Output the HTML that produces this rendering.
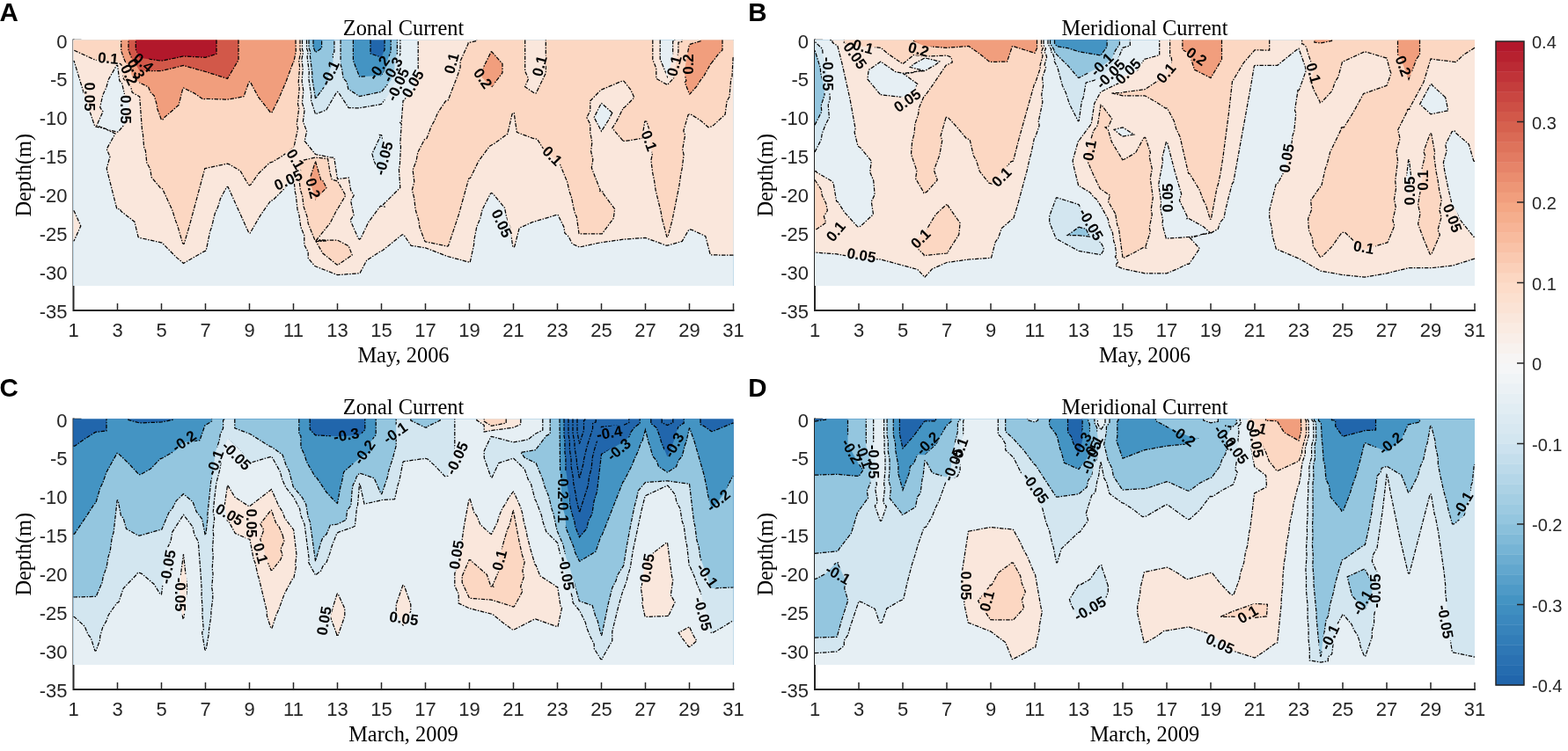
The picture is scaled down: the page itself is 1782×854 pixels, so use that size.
<!DOCTYPE html>
<html><head><meta charset="utf-8"><title>Currents</title><style>html,body{margin:0;padding:0;background:#fff;width:1782px;height:854px;overflow:hidden}
svg{display:block}
.tk{font-family:"Liberation Sans",Arial,sans-serif;font-size:22px;fill:#262626}
.cb{font-family:"Liberation Sans",Arial,sans-serif;font-size:20px;fill:#262626}
.ti{font-family:"Liberation Serif","Times New Roman",serif;font-size:24.4px;fill:#000}
.pl{font-family:"Liberation Sans",Arial,sans-serif;font-size:29.5px;font-weight:bold;fill:#000}
.cl{font-family:"Liberation Sans",Arial,sans-serif;font-size:17px;font-weight:bold;fill:#000;text-anchor:middle}
</style></head><body>
<svg width="1782" height="854" viewBox="0 0 1782 854">
<defs><mask id="lm" maskUnits="userSpaceOnUse" x="0" y="0" width="1782" height="854"><rect x="0" y="0" width="1782" height="854" fill="#fff"/><g fill="#000"><rect x="110.0" y="59.0" width="26.0" height="14" transform="rotate(5 123.0 66.0)"/><rect x="150.0" y="64.0" width="26.0" height="14" transform="rotate(40 163.0 71.0)"/><rect x="142.0" y="71.0" width="26.0" height="14" transform="rotate(62 155.0 78.0)"/><rect x="134.0" y="78.0" width="26.0" height="14" transform="rotate(65 147.0 85.0)"/><rect x="84.5" y="103.0" width="35.0" height="14" transform="rotate(90 102.0 110.0)"/><rect x="125.5" y="117.5" width="35.0" height="14" transform="rotate(90 143.0 124.5)"/><rect x="357.0" y="76.0" width="35.0" height="14" transform="rotate(-65 374.5 83.0)"/><rect x="413.0" y="70.0" width="35.0" height="14" transform="rotate(-55 430.5 77.0)"/><rect x="428.5" y="72.0" width="35.0" height="14" transform="rotate(-60 446.0 79.0)"/><rect x="430.0" y="89.0" width="44.0" height="14" transform="rotate(-65 452.0 96.0)"/><rect x="451.5" y="88.0" width="35.0" height="14" transform="rotate(-60 469.0 95.0)"/><rect x="500.0" y="65.0" width="26.0" height="14" transform="rotate(-75 513.0 72.0)"/><rect x="536.0" y="82.0" width="26.0" height="14" transform="rotate(55 549.0 89.0)"/><rect x="600.0" y="68.0" width="26.0" height="14" transform="rotate(-75 613.0 75.0)"/><rect x="725.0" y="153.0" width="26.0" height="14" transform="rotate(70 738.0 160.0)"/><rect x="753.0" y="68.0" width="26.0" height="14" transform="rotate(-75 766.0 75.0)"/><rect x="769.0" y="66.0" width="26.0" height="14" transform="rotate(-90 782.0 73.0)"/><rect x="615.0" y="170.0" width="26.0" height="14" transform="rotate(45 628.0 177.0)"/><rect x="310.0" y="197.5" width="35.0" height="14" transform="rotate(-25 327.5 204.5)"/><rect x="323.0" y="174.0" width="26.0" height="14" transform="rotate(60 336.0 181.0)"/><rect x="343.0" y="207.0" width="26.0" height="14" transform="rotate(75 356.0 214.0)"/><rect x="414.0" y="173.0" width="44.0" height="14" transform="rotate(-75 436.0 180.0)"/><rect x="553.0" y="247.0" width="35.0" height="14" transform="rotate(65 570.5 254.0)"/><rect x="968.0" y="46.0" width="26.0" height="14" transform="rotate(15 981.0 53.0)"/><rect x="954.5" y="56.0" width="35.0" height="14" transform="rotate(55 972.0 63.0)"/><rect x="919.0" y="77.0" width="44.0" height="14" transform="rotate(90 941.0 84.0)"/><rect x="1031.0" y="49.0" width="26.0" height="14" transform="rotate(15 1044.0 56.0)"/><rect x="1013.5" y="107.0" width="35.0" height="14" transform="rotate(-35 1031.0 114.0)"/><rect x="1125.0" y="194.0" width="26.0" height="14" transform="rotate(-45 1138.0 201.0)"/><rect x="936.6" y="256.0" width="26.0" height="14" transform="rotate(-50 949.6 263.0)"/><rect x="961.5" y="283.0" width="35.0" height="14" transform="rotate(10 979.0 290.0)"/><rect x="1033.0" y="264.0" width="26.0" height="14" transform="rotate(-45 1046.0 271.0)"/><rect x="1234.5" y="66.0" width="35.0" height="14" transform="rotate(-45 1252.0 73.0)"/><rect x="1240.0" y="77.0" width="44.0" height="14" transform="rotate(-45 1262.0 84.0)"/><rect x="1264.5" y="74.0" width="35.0" height="14" transform="rotate(-45 1282.0 81.0)"/><rect x="1312.0" y="76.0" width="26.0" height="14" transform="rotate(-50 1325.0 83.0)"/><rect x="1347.0" y="57.0" width="26.0" height="14" transform="rotate(35 1360.0 64.0)"/><rect x="1225.0" y="164.0" width="26.0" height="14" transform="rotate(-80 1238.0 171.0)"/><rect x="1444.5" y="173.0" width="35.0" height="14" transform="rotate(-80 1462.0 180.0)"/><rect x="1309.5" y="218.0" width="35.0" height="14" transform="rotate(-90 1327.0 225.0)"/><rect x="1218.0" y="248.0" width="44.0" height="14" transform="rotate(60 1240.0 255.0)"/><rect x="1480.0" y="76.0" width="26.0" height="14" transform="rotate(75 1493.0 83.0)"/><rect x="1582.0" y="68.0" width="26.0" height="14" transform="rotate(70 1595.0 75.0)"/><rect x="1584.5" y="210.0" width="35.0" height="14" transform="rotate(-90 1602.0 217.0)"/><rect x="1604.0" y="198.0" width="26.0" height="14" transform="rotate(-90 1617.0 205.0)"/><rect x="1633.5" y="241.0" width="35.0" height="14" transform="rotate(70 1651.0 248.0)"/><rect x="1537.0" y="274.0" width="26.0" height="14" transform="rotate(10 1550.0 281.0)"/><rect x="191.5" y="494.5" width="35.0" height="14" transform="rotate(-35 209.0 501.5)"/><rect x="226.5" y="519.0" width="35.0" height="14" transform="rotate(-70 244.0 526.0)"/><rect x="247.0" y="511.0" width="44.0" height="14" transform="rotate(45 269.0 518.0)"/><rect x="243.5" y="578.0" width="35.0" height="14" transform="rotate(30 261.0 585.0)"/><rect x="268.5" y="588.0" width="35.0" height="14" transform="rotate(90 286.0 595.0)"/><rect x="168.5" y="637.5" width="44.0" height="14" transform="rotate(-80 190.5 644.5)"/><rect x="183.0" y="669.0" width="44.0" height="14" transform="rotate(90 205.0 676.0)"/><rect x="283.5" y="622.0" width="26.0" height="14" transform="rotate(75 296.5 629.0)"/><rect x="350.5" y="699.0" width="35.0" height="14" transform="rotate(-80 368.0 706.0)"/><rect x="376.0" y="487.5" width="35.0" height="14" transform="rotate(-10 393.5 494.5)"/><rect x="396.5" y="507.0" width="35.0" height="14" transform="rotate(-55 414.0 514.0)"/><rect x="431.5" y="485.0" width="35.0" height="14" transform="rotate(-35 449.0 492.0)"/><rect x="497.0" y="514.0" width="44.0" height="14" transform="rotate(-65 519.0 521.0)"/><rect x="622.5" y="546.0" width="35.0" height="14" transform="rotate(90 640.0 553.0)"/><rect x="622.5" y="573.0" width="35.0" height="14" transform="rotate(90 640.0 580.0)"/><rect x="441.5" y="696.0" width="35.0" height="14" transform="rotate(8 459.0 703.0)"/><rect x="501.0" y="624.0" width="35.0" height="14" transform="rotate(-80 518.5 631.0)"/><rect x="554.5" y="630.0" width="26.0" height="14" transform="rotate(-75 567.5 637.0)"/><rect x="622.0" y="645.0" width="44.0" height="14" transform="rotate(80 644.0 652.0)"/><rect x="675.0" y="485.0" width="35.0" height="14" transform="rotate(-10 692.5 492.0)"/><rect x="685.5" y="504.0" width="35.0" height="14" transform="rotate(-40 703.0 511.0)"/><rect x="748.2" y="499.0" width="35.0" height="14" transform="rotate(-60 765.7 506.0)"/><rect x="798.5" y="562.0" width="35.0" height="14" transform="rotate(-40 816.0 569.0)"/><rect x="717.5" y="639.0" width="35.0" height="14" transform="rotate(-80 735.0 646.0)"/><rect x="786.5" y="647.0" width="35.0" height="14" transform="rotate(55 804.0 654.0)"/><rect x="777.0" y="691.0" width="44.0" height="14" transform="rotate(75 799.0 698.0)"/><rect x="950.5" y="506.0" width="35.0" height="14" transform="rotate(60 968.0 513.0)"/><rect x="964.5" y="511.0" width="35.0" height="14" transform="rotate(70 982.0 518.0)"/><rect x="971.0" y="518.0" width="44.0" height="14" transform="rotate(90 993.0 525.0)"/><rect x="1036.5" y="497.0" width="35.0" height="14" transform="rotate(-45 1054.0 504.0)"/><rect x="1061.0" y="521.0" width="44.0" height="14" transform="rotate(-70 1083.0 528.0)"/><rect x="1072.5" y="505.0" width="35.0" height="14" transform="rotate(-70 1090.0 512.0)"/><rect x="1155.0" y="548.0" width="44.0" height="14" transform="rotate(55 1177.0 555.0)"/><rect x="935.1" y="646.0" width="35.0" height="14" transform="rotate(30 952.6 653.0)"/><rect x="1080.5" y="659.0" width="35.0" height="14" transform="rotate(90 1098.0 666.0)"/><rect x="1108.5" y="676.5" width="26.0" height="14" transform="rotate(-75 1121.5 683.5)"/><rect x="1211.5" y="498.5" width="35.0" height="14" transform="rotate(-60 1229.0 505.5)"/><rect x="1224.5" y="502.0" width="35.0" height="14" transform="rotate(-60 1242.0 509.0)"/><rect x="1218.0" y="513.0" width="44.0" height="14" transform="rotate(-70 1240.0 520.0)"/><rect x="1327.5" y="488.5" width="35.0" height="14" transform="rotate(35 1345.0 495.5)"/><rect x="1374.5" y="490.0" width="35.0" height="14" transform="rotate(55 1392.0 497.0)"/><rect x="1382.0" y="503.0" width="44.0" height="14" transform="rotate(55 1404.0 510.0)"/><rect x="1415.0" y="478.5" width="26.0" height="14" transform="rotate(15 1428.0 485.5)"/><rect x="1410.5" y="497.0" width="35.0" height="14" transform="rotate(80 1428.0 504.0)"/><rect x="1216.5" y="685.0" width="44.0" height="14" transform="rotate(-30 1238.5 692.0)"/><rect x="1369.1" y="725.0" width="35.0" height="14" transform="rotate(25 1386.6 732.0)"/><rect x="1405.0" y="691.5" width="26.0" height="14" transform="rotate(-30 1418.0 698.5)"/><rect x="1562.5" y="497.0" width="35.0" height="14" transform="rotate(-40 1580.0 504.0)"/><rect x="1645.0" y="566.0" width="35.0" height="14" transform="rotate(-60 1662.5 573.0)"/><rect x="1493.5" y="717.5" width="35.0" height="14" transform="rotate(-65 1511.0 724.5)"/><rect x="1530.5" y="678.0" width="35.0" height="14" transform="rotate(-60 1548.0 685.0)"/><rect x="1541.0" y="665.0" width="44.0" height="14" transform="rotate(-90 1563.0 672.0)"/><rect x="1621.0" y="700.0" width="44.0" height="14" transform="rotate(80 1643.0 707.0)"/></g></mask></defs>
<path stroke="#262626" stroke-width="2" fill="none" d="M83.5 44.5 V353.0 H834.5"/>
<path stroke="#262626" stroke-width="1.5" fill="none" d="M83.5 45.5h9M83.5 89.4h9M83.5 133.4h9M83.5 177.3h9M83.5 221.2h9M83.5 265.1h9M83.5 309.1h9M83.5 353.0h9M133.5 353.0v-8M183.5 353.0v-8M233.5 353.0v-8M283.5 353.0v-8M333.5 353.0v-8M383.5 353.0v-8M433.5 353.0v-8M483.5 353.0v-8M533.5 353.0v-8M583.5 353.0v-8M633.5 353.0v-8M683.5 353.0v-8M733.5 353.0v-8M783.5 353.0v-8M833.5 353.0v-8"/>
<path stroke="#262626" stroke-width="2" fill="none" d="M926.0 44.5 V353.0 H1677.0"/>
<path stroke="#262626" stroke-width="1.5" fill="none" d="M926.0 45.5h9M926.0 89.4h9M926.0 133.4h9M926.0 177.3h9M926.0 221.2h9M926.0 265.1h9M926.0 309.1h9M926.0 353.0h9M976.0 353.0v-8M1026.0 353.0v-8M1076.0 353.0v-8M1126.0 353.0v-8M1176.0 353.0v-8M1226.0 353.0v-8M1276.0 353.0v-8M1326.0 353.0v-8M1376.0 353.0v-8M1426.0 353.0v-8M1476.0 353.0v-8M1526.0 353.0v-8M1576.0 353.0v-8M1626.0 353.0v-8M1676.0 353.0v-8"/>
<path stroke="#262626" stroke-width="2" fill="none" d="M83.5 475.5 V784.0 H834.5"/>
<path stroke="#262626" stroke-width="1.5" fill="none" d="M83.5 476.5h9M83.5 520.4h9M83.5 564.4h9M83.5 608.3h9M83.5 652.2h9M83.5 696.1h9M83.5 740.1h9M83.5 784.0h9M133.5 784.0v-8M183.5 784.0v-8M233.5 784.0v-8M283.5 784.0v-8M333.5 784.0v-8M383.5 784.0v-8M433.5 784.0v-8M483.5 784.0v-8M533.5 784.0v-8M583.5 784.0v-8M633.5 784.0v-8M683.5 784.0v-8M733.5 784.0v-8M783.5 784.0v-8M833.5 784.0v-8"/>
<path stroke="#262626" stroke-width="2" fill="none" d="M926.0 475.5 V784.0 H1677.0"/>
<path stroke="#262626" stroke-width="1.5" fill="none" d="M926.0 476.5h9M926.0 520.4h9M926.0 564.4h9M926.0 608.3h9M926.0 652.2h9M926.0 696.1h9M926.0 740.1h9M926.0 784.0h9M976.0 784.0v-8M1026.0 784.0v-8M1076.0 784.0v-8M1126.0 784.0v-8M1176.0 784.0v-8M1226.0 784.0v-8M1276.0 784.0v-8M1326.0 784.0v-8M1376.0 784.0v-8M1426.0 784.0v-8M1476.0 784.0v-8M1526.0 784.0v-8M1576.0 784.0v-8M1626.0 784.0v-8M1676.0 784.0v-8"/>
<path fill="#2166ac" d="M83.5 45.5L108.5 45.5L133.5 45.5L158.5 45.5L183.5 45.5L208.5 45.5L233.5 45.5L258.5 45.5L283.5 45.5L308.5 45.5L333.5 45.5L358.5 45.5L383.5 45.5L408.5 45.5L433.5 45.5L458.5 45.5L483.5 45.5L508.5 45.5L533.5 45.5L558.5 45.5L583.5 45.5L608.5 45.5L633.5 45.5L658.5 45.5L683.5 45.5L708.5 45.5L733.5 45.5L758.5 45.5L783.5 45.5L808.5 45.5L833.5 45.5L833.5 324.9L808.5 324.9L783.5 324.9L758.5 324.9L733.5 324.9L708.5 324.9L683.5 324.9L658.5 324.9L633.5 324.9L608.5 324.9L583.5 324.9L558.5 324.9L533.5 324.9L508.5 324.9L483.5 324.9L458.5 324.9L433.5 324.9L408.5 324.9L383.5 324.9L358.5 324.9L333.5 324.9L308.5 324.9L283.5 324.9L258.5 324.9L233.5 324.9L208.5 324.9L183.5 324.9L158.5 324.9L133.5 324.9L108.5 324.9L83.5 324.9 Z"/>
<path fill="#2166ac" d="M258.5 45.5L833.5 45.5L833.5 324.9L83.5 324.9L83.5 45.5L258.5 45.5Z"/>
<path fill="#4494c3" d="M421 45.5L421 60.9L433.5 65.3L437.1 56.4L437.1 45.5L833.5 45.5L833.5 324.9L83.5 324.9L83.5 45.5L421 45.5Z"/>
<path fill="#94c6df" d="M356 45.5L356 53.1L358.5 59.6L365.6 54.7L365.6 45.5L401.4 45.5L401.4 68.8L408.5 87.2L433.5 85.9L438.5 76.4L438.5 73L444.2 58.5L444.2 45.5L833.5 45.5L833.5 324.9L83.5 324.9L83.5 45.5L356 45.5Z"/>
<path fill="#d3e6f0" d="M351 45.5L351 54.4L353 59.6L352.3 63L354.9 83.9L354.6 87.5L358.5 112.3L359.2 111.7L371.2 95.1L375.2 78.6L378.4 71.9L378.4 60.2L379.9 59.1L379.9 45.5L387.1 45.5L387.1 73.7L388.4 77.3L390.1 88.8L394.1 93.3L395.8 101.3L408.5 109.6L433.5 104.4L444.6 90.9L445.9 83L448.5 78.1L448.5 67.8L451.4 60.6L451.4 45.5L833.5 45.5L833.5 324.9L83.5 324.9L83.5 45.5L351 45.5Z"/>
<path fill="#e6eff4" d="M348.5 45.5L348.5 55L350.2 59.5L349.1 64.5L351.3 82L350.8 89.1L353.8 109L353.4 113.6L358.5 129.8L370.8 125.1L382.1 105.6L383.5 104.4L384.9 105.4L396.2 122.7L408.5 122.8L433.5 118.4L441.7 107.7L443.4 101.6L450.2 93.2L452.2 81.4L453.5 78.9L453.5 65.2L454.9 61.6L454.9 45.5L833.5 45.5L833.5 324.9L83.5 324.9L83.5 45.5L348.5 45.5ZM422.9 174.8L425.2 183.4L432.8 198.9L433.5 199.2L437.7 178.8L437.9 174.4L433.8 154.1L433.5 153.6L431.5 153.4L432.4 154.7L422.9 174.8Z"/>
<path fill="#fae7dc" d="M343.5 45.5L343.5 56.2L344.6 59.2L342.9 67.6L344.2 78L343.1 92.3L344.8 103.3L343.4 116.9L346.1 125.2L344.4 138.1L348.6 149.3L346.2 160.3L358.5 175.5L375.2 178.9L379.8 179.3L383.5 203.6L384.2 203.8L395.8 201.8L396.2 202L398.6 216.1L402.2 222.2L398.6 228.3L402.1 244.6L398.1 250.5L407.1 270.9L407.8 271.8L408.5 272.2L409.9 271.1L418.9 252.4L432.4 234.2L437 235L435.5 232.6L454.8 213.4L453.4 192.3L454.3 188.1L455.5 166.5L454.8 163.3L456.3 140.9L454.6 139.2L456.3 137.9L458.1 114.4L458.5 114L459.6 114L459.9 113L471.2 99.3L471.2 89.8L475.2 81.9L475.2 45.5L750.2 45.5L750.2 67.1L758.5 87.2L763.5 68.9L764.7 62.6L764.7 46.9L766.8 46.4L766.8 45.5L833.5 45.5L833.5 290.2L808.5 290.2L807.8 289.9L807.1 289.1L801.8 268.6L787 261.7L783.5 260.8L782.8 261.3L775.2 274.4L758.5 279.2L757.1 279.1L733.5 270.4L708.5 272.2L682.1 275.9L658.5 281L650.2 277.2L646.2 269L641.8 264.9L640.9 258.3L634.1 244.4L633.5 244.1L608.5 252L605 252.7L590.2 259.3L584.9 280L584.2 280.8L582.8 280.9L579.6 257.9L576.8 252.8L573.5 236.3L560.5 220.6L558.5 219.5L557.5 220.1L548.2 238.1L545.8 248.4L541.8 257.8L538.7 273.9L538.7 277.6L534.2 298.4L533.5 298.5L508.5 291.5L483.5 281.8L467.2 279.3L459.2 267.5L458.5 266.9L457.1 266.8L434.9 284.8L432.1 286L416.8 296L409.2 310.3L408.5 310.8L383.5 312.6L357.8 302.6L350.2 293.6L350.2 286.6L345.8 278.4L345.8 267.7L341.8 258.1L339.8 243.5L338.1 238.6L336.2 221.1L335.5 219.2L333.5 199.2L332.1 200L323.1 214.6L310.5 227.3L307.5 228.4L295.8 245.1L284.2 265.1L282.8 264.9L259.2 212.7L258.5 212.4L257.5 212.9L250.4 226.1L248.1 234.3L244.1 243.3L240.5 258.4L238.7 263.1L234.2 285.1L232.1 285.9L209.2 299.2L207.8 299.1L200.2 292.4L184.2 276.1L158.5 270.4L157.1 269.5L152.9 252.2L137.7 240.3L136 237.4L133.5 237.9L132.8 237.5L121.2 191.7L125 178L121.2 169.5L131 152L121 147.3L133.5 150.1L134.5 149.7L143.8 138.7L142.9 130.5L147 121.6L146.2 110.9L141.8 108.5L138.6 94.7L135.8 91.8L133.7 74L133.5 73.6L132.8 73.8L123.2 90.6L120.8 99.6L116.8 108L113.7 122.1L117 126.8L109.9 142.8L121 146.6L107.8 143.9L96.2 109L84.2 69.5L83.5 69.2L83.5 45.5L343.5 45.5ZM83.5 239.7L84.2 239.9L84.2 240.5L91.8 256.9L84.2 273.1L84.2 273.8L83.5 273.9L83.5 239.7ZM695.8 128.3L684.2 118L683.5 117.5L683.1 117.8L675.2 133.5L683.5 149.2L691.8 136.1L695.8 128.3Z"/>
<path fill="#fcd7c2" d="M341 45.5L341 56.8L341.9 59.1L339.7 69.2L340.6 76.1L339.2 93.8L340.2 100.4L338.5 118.5L339.8 122.7L337.2 142.1L338.6 145.9L333.9 167.9L334.2 168.3L332.1 168.9L321.2 177.1L309.9 184L306.5 185.1L293.9 197.2L284.9 210.1L283.5 210.7L282.1 209.7L273.1 194.3L260.5 186.8L258.5 186.1L232.8 191.6L221.2 235.7L209.2 277.3L208.5 277.4L207.8 277L201.7 256.4L199.7 251.4L195.8 239L184.5 214.4L182.3 213.7L172.1 201.5L170.8 192.2L166.8 185L165.4 171.4L163.6 167.1L162.3 150.9L161.5 148.4L158.7 110L158.1 109.3L150.2 105.1L148.6 98.2L144.2 93.1L140.4 89.6L138.7 75.4L137.6 73.2L133.5 71L108.5 68.3L91.8 61L83.5 56.9L83.5 45.5L341 45.5ZM596.7 45.5L596.7 81L600.6 89.5L596.6 98.6L607.1 105.9L608.5 106.1L609.2 106L609.2 105.3L620.3 83L620.3 45.5L741.8 45.5L741.8 67.8L745.8 77.6L745.8 89.3L758.5 96.5L765.8 88.6L764.9 84.8L768.5 71.4L770.9 58.8L771.1 48L775.2 47.3L775.2 45.5L833.5 45.5L833.5 65.3L833.1 65.7L832 87.1L830.7 90.2L829 110L826.1 115L824.1 130.2L810.7 142.6L808.5 143.9L805 144.7L796 136.9L784.9 129.9L783.5 129.8L782.1 130.7L776.8 148.7L778.6 153.8L775.7 169.8L777.1 176L775.2 191.2L773.6 199L771.9 211.2L769.5 222.1L768.2 231L764.8 245.4L764 250.4L759 269.3L757.8 269.2L752.2 247.7L751.2 241.3L745.1 216.1L743.4 204.3L741.8 197.1L739.9 182.3L741.3 175.7L738.4 160.4L740.2 154.7L734.9 138.2L733.5 137.8L732.8 138.2L729.6 157.2L712 160.2L707.5 160.5L707.8 159.9L695.8 145.7L700.2 138.9L708.1 123.3L707.8 123L709.9 122L720.8 110.9L716.8 102.2L709.2 92.4L708.5 92.1L707.1 92.1L684.9 101.7L683.5 101.7L682.8 102.4L670.8 114.7L670.8 125.9L666.8 133.6L670.8 141.2L670.8 152.3L671.2 152.6L672.9 161.9L671.6 171.9L673.9 181.3L672.3 190.8L682.3 216.5L681.8 217.6L684.9 218L684.6 218.8L698.6 237.6L697.3 248.2L684.4 265.2L684.2 265.9L658.5 266L658 265.6L655.3 246.4L653.8 243.7L652.7 240.1L649.4 224.1L647.1 217.7L644.7 207L634.4 181.9L631 181.4L619.2 171.8L610.5 158.3L605 157.1L587.4 150.4L584.2 128.5L583.5 128.1L582.1 129.5L576.8 152.3L562 163.1L556.5 166.2L543.9 183.2L534.9 201.8L534.5 202.5L532.8 202.9L521.2 244.6L515.3 263.2L509.5 279.5L508.5 280.1L483 274.6L476.8 258.2L475.9 250.9L472.1 238.2L470.8 225.6L468.4 216L470.8 206.6L469.1 193.3L473.1 183L474.8 173.3L482.4 158.6L484.9 157.5L490.2 143.4L493.7 137.4L497.4 128.5L506.5 114.9L509.2 114L519.1 88.4L523.1 76.7L523.1 69.6L532.1 49.7L532.1 48.7L541.8 46.5L541.8 45.5L596.7 45.5ZM384.2 301.1L382.8 300.9L366.8 288L359.2 274.7L371 273.8L358.1 273.7L350.2 254.2L349.2 246.9L345 234.6L343.7 223L341.3 215.6L339.6 200.4L341.6 194L338.6 183.7L357.1 179.6L358.5 179L359 179.4L372.6 180.6L375.1 196.7L377.1 203.7L377.4 204.2L383.3 205.9L383.9 206.5L392.8 222.2L383.9 237.3L384 237.8L382.8 238.6L375.2 253.7L359.9 272.6L371 273.1L383.5 273.1L396.2 279.7L400.2 290L384.9 300.3L384.2 301.1Z"/>
<path fill="#f19e7d" d="M336 45.5L336 58.1L336.3 58.8L333.5 71.9L332.8 72L325 93L317 111.7L309.2 127.5L308.5 128.1L307.4 127.9L293.7 110.5L284.9 94.1L284.2 93.1L283.5 92.9L282.8 93.5L277 109.8L258.5 113.2L233.5 112.3L231 113L221 106.1L208.5 100L207.8 100.6L203.1 119.4L186 134.3L184.9 136.1L183.5 136L183.2 135.6L178.7 123.5L178.4 119.6L175.2 108.9L171 105L168.6 98.9L159 94.2L149.5 85.3L148.5 77.8L145.9 73.2L143.6 72.1L141.8 69.1L137.7 57.8L137.7 45.5L336 45.5ZM821 45.5L821 57L816.9 60.8L808.5 71.9L807.1 71.8L807.8 72.4L800 86.3L796 91.4L792 97.9L784.2 106.7L783.5 107L778.3 93.6L779.9 91.9L777.3 80.9L778.5 76.4L783.5 50.8L784.2 50.3L796 46.8L796 45.5L821 45.5ZM358.5 226.5L352.8 208.5L352.2 203.4L358.5 183.4L364.7 204.5L366.8 205.3L371 213.5L358.5 226.5ZM558.1 58.9L558.5 58.7L559.2 59.2L571 72.5L571 82.8L559 98.9L558.5 99.1L547.7 88L549.1 77.2L558.1 58.9Z"/>
<path fill="#d25849" d="M271 45.5L271 68.3L258.5 89.4L233.5 81.5L208.5 74.5L183.5 80.6L158.5 80.6L154.3 73.2L153.5 72.8L150.2 67.6L146 56.9L146 45.5L271 45.5Z"/>
<path fill="#b2182b" d="M246 45.5L246 61.4L233.5 65.3L208.5 64L183.5 69.2L158.5 65.7L154.3 56L154.3 45.5L246 45.5Z"/>
<path fill="none" stroke="#000" stroke-width="1.25" stroke-dasharray="4.5 1.5 1.5 1.5" mask="url(#lm)" d="M421 45.5L421 60.9L433.5 65.3L437.1 56.4L437.1 45.5M356 45.5L356 53.1L358.5 59.6L365.6 54.7L365.6 45.5M401.4 45.5L401.4 68.8L408.5 87.2L433.5 85.9L438.5 76.4L438.5 73L444.2 58.5L444.2 45.5M351 45.5L351 54.4L353 59.6L352.3 63L354.9 83.9L354.6 87.5L358.5 112.3L371.2 95.1L375.2 78.6L378.4 71.9L378.4 60.2L379.9 59.1L379.9 45.5M387.1 45.5L387.1 73.7L388.4 77.3L390.1 88.8L394.1 93.3L395.8 101.3L408.5 109.6L433.5 104.4L444.6 90.9L445.9 83L448.5 78.1L448.5 67.8L451.4 60.6L451.4 45.5M348.5 45.5L348.5 55L350.2 59.5L349.1 64.5L351.3 82L350.8 89.1L353.8 109L353.4 113.6L358.5 129.8L370.8 125.1L382.1 105.6L383.5 104.4L384.9 105.4L396.2 122.7L408.5 122.8L433.5 118.4L441.7 107.7L443.4 101.6L450.2 93.2L452.2 81.4L453.5 78.9L453.5 65.2L454.9 61.6L454.9 45.5M422.9 174.8L425.2 183.4L432.8 198.9L433.5 199.2L437.7 178.8L437.9 174.4L433.8 154.1L433.5 153.6L431.5 153.4L432.4 154.7L422.9 174.8ZM343.5 45.5L343.5 56.2L344.6 59.2L342.9 67.6L344.2 78L343.1 92.3L344.8 103.3L343.4 116.9L346.1 125.2L344.4 138.1L348.6 149.3L346.2 160.3L358.5 175.5L375.2 178.9L379.8 179.3L383.5 203.6L396.2 202L398.6 216.1L402.2 222.2L398.6 228.3L402.1 244.6L398.1 250.5L407.1 270.9L408.5 272.2L409.9 271.1L418.9 252.4L432.4 234.2L437 235L435.5 232.6L454.8 213.4L453.4 192.3L454.3 188.1L455.5 166.5L454.8 163.3L456.3 140.9L454.6 139.2L456.3 137.9L458.1 114.4L459.6 114L459.9 113L471.2 99.3L471.2 89.8L475.2 81.9L475.2 45.5M750.2 45.5L750.2 67.1L758.5 87.2L763.5 68.9L764.7 62.6L764.7 46.9L766.8 46.4L766.8 45.5M833.5 290.2L807.8 289.9L807.1 289.1L801.8 268.6L787 261.7L783.5 260.8L782.8 261.3L775.2 274.4L758.5 279.2L757.1 279.1L733.5 270.4L708.5 272.2L682.1 275.9L658.5 281L650.2 277.2L646.2 269L641.8 264.9L640.9 258.3L634.1 244.4L633.5 244.1L605 252.7L590.2 259.3L584.9 280L584.2 280.8L582.8 280.9L579.6 257.9L576.8 252.8L573.5 236.3L560.5 220.6L558.5 219.5L557.5 220.1L548.2 238.1L545.8 248.4L541.8 257.8L538.7 273.9L538.7 277.6L534.2 298.4L508.5 291.5L483.5 281.8L467.2 279.3L459.2 267.5L458.5 266.9L457.1 266.8L434.9 284.8L432.1 286L416.8 296L409.2 310.3L408.5 310.8L383.5 312.6L357.8 302.6L350.2 293.6L350.2 286.6L345.8 278.4L345.8 267.7L341.8 258.1L339.8 243.5L338.1 238.6L336.2 221.1L335.5 219.2L333.5 199.2L332.1 200L323.1 214.6L310.5 227.3L307.5 228.4L295.8 245.1L284.2 265.1L282.8 264.9L259.2 212.7L258.5 212.4L257.5 212.9L250.4 226.1L248.1 234.3L244.1 243.3L240.5 258.4L238.7 263.1L234.2 285.1L232.1 285.9L208.5 299.4L200.2 292.4L184.2 276.1L158.5 270.4L157.1 269.5L152.9 252.2L137.7 240.3L136 237.4L133.5 237.9L132.8 237.5L121.2 191.7L125 178L121.2 169.5L131 152L121 147.3L133.5 150.1L134.5 149.7L143.8 138.7L142.9 130.5L147 121.6L146.2 110.9L141.8 108.5L138.6 94.7L135.8 91.8L133.5 73.6L132.8 73.8L123.2 90.6L120.8 99.6L116.8 108L113.7 122.1L117 126.8L109.9 142.8L121 146.6L107.8 143.9L96.2 109L84.2 69.5L83.5 69.2M83.5 239.7L84.2 239.9L91.8 256.9L84.2 273.8L83.5 273.9M695.8 128.3L684.2 118L683.5 117.5L683.1 117.8L675.2 133.5L683.5 149.2L691.8 136.1L695.8 128.3ZM341 45.5L341 56.8L341.9 59.1L339.7 69.2L340.6 76.1L339.2 93.8L340.2 100.4L338.5 118.5L339.8 122.7L337.2 142.1L338.6 145.9L333.9 167.9L334.2 168.3L332.1 168.9L321.2 177.1L309.9 184L306.5 185.1L293.9 197.2L284.9 210.1L283.5 210.7L282.1 209.7L273.1 194.3L260.5 186.8L258.5 186.1L232.8 191.6L215.3 256.8L209.2 277.3L208.5 277.4L207.5 276.4L201.7 256.4L199.7 251.4L195.8 239L184.5 214.4L182.3 213.7L172.1 201.5L170.8 192.2L166.8 185L165.4 171.4L163.6 167.1L162.3 150.9L161.5 148.4L158.7 110L150.2 105.1L148.6 98.2L144.2 93.1L140.4 89.6L138.7 75.4L137.6 73.2L133.5 71L108.5 68.3L83.5 56.9M596.7 45.5L596.7 81L600.6 89.5L596.6 98.6L607.1 105.9L608.5 106.1L609.2 106L620.3 83L620.3 45.5M741.8 45.5L741.8 67.8L745.8 77.6L745.8 89.3L758.5 96.5L765.8 88.6L764.9 84.8L768.5 71.4L770.9 58.8L770.9 48.3L775.2 47.3L775.2 45.5M833.5 65.3L833.1 65.7L832 87.1L830.7 90.2L829 110L826.1 115L824.1 130.2L810.7 142.6L808.5 143.9L805 144.7L796 136.9L784.9 129.9L783.5 129.8L782.1 130.7L776.8 148.7L778.6 153.8L775.7 169.8L777.1 176L775.2 191.2L773.6 199L771.9 211.2L764 250.4L759 269.3L757.8 269.2L752.2 247.7L751.2 241.3L745.1 216.1L743.4 204.3L741.8 197.1L739.9 182.3L741.3 175.7L738.4 160.4L740.2 154.7L734.9 138.2L733.5 137.8L732.8 138.2L729.6 157.2L712 160.2L707.5 160.5L707.8 159.9L695.8 145.7L700.2 138.9L708.1 123.3L707.8 123L709.9 122L720.8 110.9L716.8 102.2L709.2 92.4L708.5 92.1L707.1 92.1L682.8 102.4L670.8 114.7L670.8 125.9L666.8 133.6L670.8 141.2L670.8 152.3L671.2 152.6L672.9 161.9L671.6 171.9L673.9 181.3L672.3 190.8L682.3 216.5L681.8 217.6L684.9 218L684.6 218.8L698.6 237.6L697.3 248.2L684.2 265.9L658.5 266L658 265.6L655.3 246.4L653.8 243.7L652.7 240.1L649.4 224.1L647.1 217.7L644.7 207L634.4 181.9L631 181.4L619.2 171.8L610.5 158.3L605 157.1L587.4 150.4L584.2 128.5L583.5 128.1L582.1 129.5L576.8 152.3L562 163.1L556.5 166.2L543.9 183.2L534.9 201.8L534.5 202.5L532.8 202.9L521.2 244.6L509.5 279.5L508.5 280.1L483.5 274.8L482.8 274.2L476.8 258.2L475.9 250.9L472.1 238.2L470.8 225.6L468.4 216L470.8 206.6L469.1 193.3L473.1 183L474.8 173.3L482.4 158.6L484.9 157.5L490.2 143.4L493.7 137.4L497.4 128.5L506.5 114.9L509.2 114L519.1 88.4L523.1 76.7L523.1 69.6L532.1 49.7L532.1 48.7L541.8 46.5L541.8 45.5M384.2 301.1L382.8 300.9L366.8 288L359.2 274.7L371 273.8L358.1 273.7L350.2 254.2L349.2 246.9L345 234.6L343.7 223L341.3 215.6L339.6 200.4L341.6 194L338.6 183.7L358.5 179L372.6 180.6L375.1 196.7L377.1 203.7L377.4 204.2L383.3 205.9L383.9 206.5L392.8 222.2L383.9 237.3L384 237.8L382.8 238.6L375.2 253.7L359.9 272.6L371 273.1L383.5 273.1L396.2 279.7L400.2 290L384.2 301.1ZM336 45.5L336.3 58.8L333.5 71.9L332.8 72L325 93L317 111.7L309.2 127.5L308.5 128.1L307.4 127.9L293.7 110.5L284.9 94.1L284.2 93.1L283.5 92.9L282.8 93.5L277 109.8L258.5 113.2L233.5 112.3L231 113L221 106.1L208.5 100L207.8 100.6L203.1 119.4L186 134.3L184.9 136.1L183.5 136L183.2 135.6L178.7 123.5L178.4 119.6L175.2 108.9L171 105L168.6 98.9L159 94.2L149.5 85.3L148.5 77.8L145.9 73.2L143.6 72.1L141.8 69.1L137.7 57.8L137.7 45.5M821 45.5L821 57L816.9 60.8L808.5 71.9L807.1 71.8L807.8 72.4L800 86.3L796 91.4L792 97.9L784.2 106.7L783.5 107L778.3 93.6L779.9 91.9L777.3 80.9L783.3 51.1L784.2 50.3L796 46.8L796 45.5M358.5 226.5L352.8 208.5L352.2 203.4L358.5 183.4L364.7 204.5L366.8 205.3L371 213.5L358.5 226.5ZM558.1 58.9L558.5 58.7L559.2 59.2L571 72.5L571 82.8L558.5 99.1L547.7 88L549.1 77.2L558.1 58.9ZM271 45.5L271 68.3L258.5 89.4L233.5 81.5L208.5 74.5L183.5 80.6L158.5 80.6L154.3 73.2L153.5 72.8L150.2 67.6L146 56.9L146 45.5M246 45.5L246 61.4L233.5 65.3L208.5 64L183.5 69.2L158.5 65.7L154.3 56L154.3 45.5"/>
<path fill="#2166ac" d="M926 45.5L951 45.5L976 45.5L1001 45.5L1026 45.5L1051 45.5L1076 45.5L1101 45.5L1126 45.5L1151 45.5L1176 45.5L1201 45.5L1226 45.5L1251 45.5L1276 45.5L1301 45.5L1326 45.5L1351 45.5L1376 45.5L1401 45.5L1426 45.5L1451 45.5L1476 45.5L1501 45.5L1526 45.5L1551 45.5L1576 45.5L1601 45.5L1626 45.5L1651 45.5L1676 45.5L1676 324.9L1651 324.9L1626 324.9L1601 324.9L1576 324.9L1551 324.9L1526 324.9L1501 324.9L1476 324.9L1451 324.9L1426 324.9L1401 324.9L1376 324.9L1351 324.9L1326 324.9L1301 324.9L1276 324.9L1251 324.9L1226 324.9L1201 324.9L1176 324.9L1151 324.9L1126 324.9L1101 324.9L1076 324.9L1051 324.9L1026 324.9L1001 324.9L976 324.9L951 324.9L926 324.9 Z"/>
<path fill="#2166ac" d="M1676 183.8L1676 324.9L926 324.9L926 45.5L1676 45.5L1676 183.8Z"/>
<path fill="#4494c3" d="M1676 183.8L1676 324.9L926 324.9L926 45.5L1676 45.5L1676 183.8Z"/>
<path fill="#94c6df" d="M1198.5 45.5L1198.5 49.4L1201 52.5L1201.7 52.9L1213.5 54.7L1226 58.7L1251 63.1L1258.1 53L1258.1 45.5L1676 45.5L1676 324.9L926 324.9L926 45.5L1198.5 45.5Z"/>
<path fill="#d3e6f0" d="M926 142.1L933.8 126.9L933.2 120L937.1 107.9L936.5 98.1L932.7 83.2L932.3 77.3L926 56.9L926 45.5L1193.5 45.5L1193.5 50.2L1195.4 52.4L1197.9 56.8L1197.4 57.7L1201 62.2L1206.1 66.8L1213.7 74.7L1225.3 87.8L1225.5 88.5L1226 88.6L1242.7 79.8L1251 76.2L1263.4 67.1L1267.6 57.4L1272.4 50.5L1272.4 45.5L1676 45.5L1676 324.9L926 324.9L926 142.1ZM1225.2 267.6L1238.3 269L1234.3 260.3L1224.6 257.9L1225.2 258.9L1213.3 267.5L1225.2 267.6Z"/>
<path fill="#e6eff4" d="M926 172.9L926.6 172.3L933.2 158.9L934.3 151.8L938.3 141.5L942.4 133.6L941.2 119.2L943.3 112.5L942.3 97.4L940.1 88.4L939.1 76.1L935.3 63.6L934.6 55.5L926.3 47.6L926 45.5L1191 45.5L1191 50.6L1192.6 52.4L1194.8 56.3L1193.9 58.1L1196.8 61.5L1198.7 68.1L1198.2 69.8L1200.8 75L1201.7 76.1L1207.4 97.4L1211.4 105.7L1215.4 118.3L1225.3 137.8L1226.2 137.4L1229.5 114.1L1231.1 111.3L1234.2 93.9L1251 89.4L1259.2 80L1263.7 73.3L1269.7 68.9L1276 54.3L1284.3 52L1284.3 45.5L1676 45.5L1676 324.9L926 324.9L926 172.9ZM1231.1 243.2L1226 232.6L1201 224.7L1200.4 224.9L1192.7 245.8L1192.7 252.8L1200.3 271.5L1226 285.4L1251 289.7L1254.5 284.2L1254.2 281.6L1251 275.7L1249.6 275.4L1250.6 275.2L1242.7 257.7L1238.3 256.4L1234.3 248.6L1231.1 243.2Z"/>
<path fill="#fae7dc" d="M1676 294.1L1651 302L1626 304.7L1601 304.7L1576 310.8L1551 315.2L1526 312.6L1501 308.2L1476.8 294.4L1475.3 294.1L1451 283.6L1450.3 283L1445.8 266.9L1445.8 261.6L1442.7 247.4L1442.7 239.1L1450.3 209L1452.4 208L1461.4 191.3L1463 180.6L1467 170.7L1469 154.4L1470.8 148.8L1472.8 128.7L1471.5 125.5L1474.9 103.7L1474 102.5L1476 102.6L1476.5 102.2L1484.3 80.2L1483.2 75.2L1476 55.2L1474.6 55.8L1451.7 74.3L1426 74.5L1425.3 75.3L1421.5 98.2L1401.7 207.5L1400.5 208.4L1396.3 224.2L1392.3 240.8L1391.1 247.8L1386.6 252.9L1384.3 260.3L1376 265.1L1363.5 267L1375.3 264.6L1367.7 257.8L1351 248.5L1349 248.5L1349.9 247.5L1340.4 227.9L1342.7 220.8L1336.3 198.1L1335.9 197.8L1326.4 161.6L1325.3 161.7L1325.5 162.2L1320.8 179.5L1321.6 183.2L1316.7 209.6L1319.7 230.6L1318.8 236.1L1321.6 250.5L1320.8 254.4L1325.5 270.7L1325.3 271.2L1351 269.5L1363.5 267.7L1352.4 270.5L1363.3 282.6L1351.7 299.8L1351 300.3L1349.6 300.1L1338.5 305.6L1326.7 310.5L1326 310.8L1301 310.8L1276 305.6L1267.7 302L1270.9 297.5L1267.4 291.9L1268.7 289.9L1267.2 277.3L1265.8 274.8L1264.5 264.9L1260.3 255.4L1259.3 249.2L1251.4 234.8L1245.9 226.3L1242.7 223.9L1238.7 218.7L1226.8 212L1225.6 211L1220.2 188.9L1219.1 182.7L1225.4 160.4L1225.3 159.8L1226.4 159.5L1240.3 140.8L1243.7 117.8L1251 104.4L1270.9 94.9L1276 87.2L1292.7 79.8L1300.3 67.5L1317.7 62.6L1317.7 45.5L1676 45.5L1676 183.4L1675.3 183.3L1674.6 182.4L1669.3 164.1L1654.5 151.2L1653 148.8L1650.2 149.6L1642.7 164.5L1644.1 171.8L1640.4 184.6L1641.7 194L1645.1 209.4L1645.9 214.5L1650.6 234.2L1651.7 234.5L1652.4 235.5L1659.5 250.2L1674.6 269.1L1676 269.5L1676 294.1ZM926 194.9L927.4 194.6L928.5 196.3L945.8 206.3L947.2 208.5L950.6 228.8L952.4 229.8L959.5 241.1L974.6 257.8L976 258.1L978.5 256.8L992.5 243.7L990.3 229.2L994.1 221.3L992.7 205.1L988.7 195.7L990.3 183.1L977.8 167.9L975 166.2L971.1 150.4L972.1 146.4L966.1 113.1L957.3 73.5L951.8 52L946.1 48.4L945.9 45.8L942.7 45.8L942.7 45.5L1186 45.5L1186 51.4L1188.5 55.2L1186.8 58.9L1188.5 61L1189.6 65.1L1187.1 73.9L1188.6 76.9L1184.6 88.5L1185.6 97.3L1185.3 97.6L1183.7 107.7L1184.9 116L1180.2 138.3L1181.2 142.8L1176.7 155.7L1175.5 156.7L1171.8 174.8L1170.5 178.9L1167.3 193.4L1156.2 234.3L1151.7 248.7L1149.6 249.8L1138.3 259.6L1134.5 270.8L1131.2 275.2L1126.7 292.7L1126 293.3L1101 295L1076 298.5L1059.3 305.9L1051 315.2L1050.3 314.8L1042.7 306.4L1001 295L976 293.3L951 288.9L926 287.1L926 194.9ZM1601.5 181.9L1601 181.7L1600.6 182.1L1598.4 202.2L1600.5 221.1L1601 221.2L1601.4 220.9L1603.7 201.1L1601.5 181.9ZM1275.6 155.2L1288.7 153L1276 144.8L1266.1 147.4L1275.6 155.2ZM1642.7 110.7L1627.4 96.7L1627 95.7L1626 95.6L1613.7 118.4L1626 129.8L1645.8 125.8L1642.7 110.7ZM985.9 90L999.9 106.8L999.6 107.6L1026 110.5L1038.7 102.7L1042.7 95.4L1027.4 84.3L1038.5 82.3L1026 83.3L1017.7 81.7L1001 70.1L987.2 79.5L985.9 90ZM1050.3 66.2L1038.7 72.8L1034.3 76.4L1049.6 80.2L1038.5 81.6L1051 80.6L1063.3 73.6L1067.7 70L1051 65.7L1050.3 66.2Z"/>
<path fill="#fcd7c2" d="M926 204.5L926.6 204.9L933.2 215.4L934.3 222.2L938.7 231.2L940.4 239.5L936.3 246L938.7 253.2L927.4 261.1L926 261.6L926 204.5ZM1183.5 45.5L1183.5 51.8L1185.4 54.6L1183.2 59.3L1184.4 60.7L1184.2 61.1L1185 63.7L1181.6 76L1182.3 77.4L1176.3 95.3L1175.4 95.9L1157.4 160.1L1151.6 183L1149 183.9L1127.4 209L1124 208.2L1113.3 194.8L1109.6 182.6L1106.4 177L1102.1 158.5L1101 158L1098.5 157.7L1088.5 145.7L1077.4 133.6L1074 133.2L1074.9 134.2L1069 154.8L1070.8 159.6L1067.7 176.7L1061.4 193.4L1065.3 204.7L1053.5 217.9L1051 219.5L1049.8 219.6L1049.6 218.4L1040.6 203.1L1041.9 194.1L1035.5 175.4L1036.6 160.9L1039 151.9L1039.9 140.9L1043.7 129.6L1044.3 123L1050.2 109.2L1051.7 108.3L1059.3 97.6L1075.2 74.2L1082.3 71L1081.1 65.2L1076 63.1L1050.3 64.2L1038.7 62.3L1026 72.7L1009.3 61.2L1001 54.3L976 52.5L963.3 50.2L959.3 48.7L959.3 45.5L1183.5 45.5ZM1442.7 45.5L1442.7 57.1L1426 56.9L1413.3 71.5L1401.6 91L1400.6 91.5L1396.3 130L1389.8 179.6L1388.1 188.6L1387 197.2L1384.7 208.5L1382.9 214.1L1376.4 248.9L1376 249.3L1375.2 249L1370.5 233.2L1367.2 226.9L1363.3 216.1L1352 197.5L1350.6 197.2L1341.1 155.7L1340.7 155.6L1336.6 146.2L1334.3 137.8L1326.7 123.3L1326 122.8L1324.6 123L1313.5 115.8L1301 108.8L1276 108.8L1274.6 108.6L1275.2 108.3L1263.3 105.8L1275.2 105.6L1276.7 104.9L1301 101.7L1313.5 93.8L1324.6 86.2L1326.4 85.5L1331.8 69.9L1331.1 64.7L1329.6 63.9L1329.6 45.5L1442.7 45.5ZM1676 54.3L1663.5 62.2L1654.5 70.6L1626 67L1617.9 93.5L1601.4 124L1601.7 124.4L1598.5 124.4L1599.6 125.9L1588.7 147.7L1591.1 157.6L1587 171.8L1588.7 183.9L1588.3 184.3L1585.7 205.9L1586.6 213.9L1584.3 227.6L1584.7 227.7L1586.3 235.6L1582.8 250.2L1584.8 256.6L1577 275.7L1576 275.7L1551 283.6L1549.6 283.5L1538.5 273.9L1528.5 264.3L1526 264.3L1524.6 265L1513.7 280.4L1502.4 291.8L1501 292.4L1500.2 292.1L1492.3 279.7L1491.6 271.4L1487.5 261.9L1486.6 248.8L1490.7 238.1L1489.6 227.9L1499.8 213.2L1501.7 211.9L1506.2 191.7L1508 187.3L1511.6 173.1L1524.6 146.2L1523.5 144.7L1527.4 144.8L1538.3 127.2L1549.6 106.5L1576 97.3L1580.9 83.4L1579.6 79.8L1576 66.1L1551 58.7L1525.5 70.4L1520.8 87.7L1517.5 92.6L1513.7 103.6L1502.4 115.8L1501 116.7L1500.2 116.7L1500.2 115.9L1492.3 100.7L1492.7 100.5L1488.7 92.4L1492.7 81.5L1490.3 71.5L1486.2 59.9L1484.6 53.4L1480.9 50L1479.6 49.9L1479.6 45.5L1676 45.5L1676 54.3ZM1619.6 176.8L1617.9 172.4L1625 152.7L1624.6 152.2L1626 151.8L1626.7 152.1L1626.5 152.5L1630.7 174.1L1629.8 177.5L1632.3 196.2L1633.7 202.4L1635.9 217.5L1638.3 227.2L1635.9 239.7L1636.3 239.8L1638 247.2L1634.1 261.4L1636.4 267L1627 288.8L1626 289.3L1625 288.7L1617.9 271.8L1615.6 264.8L1611.6 254.6L1614 242.8L1611.6 233.1L1613.3 221.1L1613.7 220.7L1614.6 211.9L1617 199.1L1616.1 191.5L1619.6 176.8ZM1267.7 243.3L1259.3 229L1261.6 222.3L1250.2 214.6L1242.3 198L1234.3 179.5L1238.3 163.6L1238.7 163.3L1242.7 148.7L1247.4 142.5L1251 119.3L1252.4 120.1L1263.7 135L1259.7 143.8L1256.1 144.8L1259.3 147.3L1263.3 161.2L1275.3 180.9L1274.6 181.9L1278 181L1290.6 173.7L1299.6 157.2L1301 156.2L1301.8 156.7L1307.4 173.4L1306.2 177.9L1309.3 192.1L1307.3 202.8L1310.3 224.8L1308.2 238.3L1309.3 244.1L1306.2 259L1307.4 263.3L1301.7 281.2L1302.4 282L1299 281.6L1288.5 287.5L1277.4 293.1L1276 293.3L1271.4 259.5L1269.7 255.7L1267.7 243.3ZM1076.9 287.1L1076.8 287.8L1076 288L1050.2 290.6L1050.2 289.8L1037.5 277.5L1050.2 264.2L1050 263.4L1051 263.4L1052.4 262.1L1063.3 244L1074.6 233.5L1076 232.6L1077.4 232.6L1077.1 233.7L1091.1 253.6L1089.8 266.7L1076.9 287.1Z"/>
<path fill="#f19e7d" d="M1178.5 45.5L1178.5 52.6L1179.1 53.5L1176 60.4L1151 52.5L1150.3 53L1144.5 70.2L1124.6 70.3L1113.5 61.3L1101 52.5L1076 54.3L1051 52.5L1038.5 47.3L1038.5 45.5L1178.5 45.5ZM1388.5 45.5L1388.5 67.7L1376 88.6L1357.5 79.2L1351.7 61L1343.9 56.6L1343.9 45.5L1388.5 45.5ZM1513.5 45.5L1513.5 46.4L1501.7 48.6L1501 49L1500.7 48.7L1493.9 48.1L1493.9 45.5L1513.5 45.5ZM1613.5 45.5L1613.5 62.1L1609.3 67.7L1608.1 71.7L1601 90.3L1593.9 71.9L1592.7 67.4L1588.5 61.9L1588.5 45.5L1613.5 45.5Z"/>
<path fill="none" stroke="#000" stroke-width="1.25" stroke-dasharray="4.5 1.5 1.5 1.5" mask="url(#lm)" d="M1198.5 45.5L1198.5 49.4L1201 52.5L1201.7 52.9L1213.5 54.7L1226 58.7L1251 63.1L1258.1 53L1258.1 45.5M926 142.1L933.8 126.9L933.2 120L937.1 107.9L936.5 98.1L932.7 83.2L932.3 77.3L926 56.9M1193.5 45.5L1193.5 50.2L1195.4 52.4L1197.9 56.8L1197.4 57.7L1201 62.2L1213.7 74.7L1225.5 88.5L1226 88.6L1242.7 79.8L1251 76.2L1263.4 67.1L1267.6 57.4L1272.4 50.5L1272.4 45.5M1225.2 267.6L1238.3 269L1234.3 260.3L1224.6 257.9L1225.2 258.9L1213.3 267.5L1225.2 267.6ZM926 172.9L933.2 158.9L934.3 151.8L938.3 141.5L942.4 133.6L941.2 119.2L943.3 112.5L942.3 97.4L940.1 88.4L939.1 76.1L935.3 63.6L934.6 55.5L926 47.3M1191 45.5L1191 50.6L1192.6 52.4L1194.8 56.3L1193.9 58.1L1196.8 61.5L1198.7 68.1L1198.2 69.8L1201.7 76.1L1207.4 97.4L1211.4 105.7L1215.4 118.3L1225.3 137.8L1226.2 137.4L1229.5 114.1L1231.1 111.3L1234.2 93.9L1251 89.4L1259.2 80L1263.7 73.3L1269.7 68.9L1276 54.3L1284.3 52L1284.3 45.5M1231.1 243.2L1226 232.6L1201 224.7L1200.4 224.9L1192.7 245.8L1192.7 252.8L1200.3 271.5L1226 285.4L1251 289.7L1254.5 284.2L1254.2 281.6L1251 275.7L1249.6 275.4L1250.6 275.2L1242.7 257.7L1238.3 256.4L1231.1 243.2ZM1676 294.1L1651 302L1626 304.7L1601 304.7L1576 310.8L1551 315.2L1526 312.6L1501 308.2L1476.8 294.4L1450.3 283L1445.8 266.9L1445.8 261.6L1442.7 247.4L1442.7 239.1L1450.3 209L1452.4 208L1461.4 191.3L1463 180.6L1467 170.7L1469 154.4L1470.8 148.8L1472.8 128.7L1471.5 125.5L1474.9 103.7L1474 102.5L1476 102.6L1476.5 102.2L1484.3 80.2L1483.2 75.2L1476 55.2L1474.6 55.8L1451.7 74.3L1426 74.5L1425.3 75.3L1421.5 98.2L1401.7 207.5L1400.5 208.4L1396.3 224.2L1392.3 240.8L1391.1 247.8L1386.6 252.9L1384.3 260.3L1376 265.1L1363.5 267L1375.3 264.6L1367.7 257.8L1351 248.5L1349 248.5L1349.9 247.5L1340.4 227.9L1342.7 220.8L1335.9 197.8L1326.4 161.6L1325.3 161.7L1320.8 179.5L1321.6 183.2L1316.7 209.6L1319.7 230.6L1318.8 236.1L1321.6 250.5L1320.8 254.4L1325.3 271.2L1351 269.5L1363.5 267.7L1352.4 270.5L1363.3 282.6L1351.7 299.8L1351 300.3L1349.6 300.1L1338.5 305.6L1326 310.8L1301 310.8L1276 305.6L1267.7 302L1270.9 297.5L1267.4 291.9L1268.7 289.9L1267.2 277.3L1265.8 274.8L1264.5 264.9L1260.3 255.4L1259.3 249.2L1251.4 234.8L1245.9 226.3L1242.7 223.9L1238.7 218.7L1225.6 211L1220.2 188.9L1219.1 182.7L1225.4 160.4L1225.3 159.8L1226.4 159.5L1240.3 140.8L1243.7 117.8L1251 104.4L1270.9 94.9L1276 87.2L1292.7 79.8L1300.3 67.5L1317.7 62.6L1317.7 45.5M926 194.9L927.4 194.6L928.5 196.3L945.8 206.3L947.2 208.5L950.6 228.8L952.4 229.8L959.5 241.1L974.6 257.8L976 258.1L978.5 256.8L992.5 243.7L990.3 229.2L994.1 221.3L992.7 205.1L988.7 195.7L990.3 183.1L977.8 167.9L975 166.2L971.1 150.4L972.1 146.4L966.1 113.1L957.3 73.5L951.8 52L946.1 48.4L945.9 45.8L942.7 45.5M1186 45.5L1186 51.4L1188.5 55.2L1186.8 58.9L1188.5 61L1189.6 65.1L1187.1 73.9L1188.6 76.9L1184.6 88.5L1185.6 97.3L1183.7 107.7L1184.9 116L1180.2 138.3L1181.2 142.8L1176.7 155.7L1175.5 156.7L1171.8 174.8L1170.5 178.9L1167.3 193.4L1156.2 234.3L1151.7 248.7L1149.6 249.8L1138.3 259.6L1134.5 270.8L1131.2 275.2L1126.7 292.7L1126 293.3L1101 295L1076 298.5L1059.3 305.9L1051 315.2L1042.7 306.4L1001 295L976 293.3L951 288.9L926 287.1M1676 183.4L1675.3 183.3L1674.6 182.4L1669.3 164.1L1654.5 151.2L1653 148.8L1650.2 149.6L1642.7 164.5L1644.1 171.8L1640.4 184.6L1641.7 194L1645.9 214.5L1650.6 234.2L1651.7 234.5L1652.4 235.5L1659.5 250.2L1674.6 269.1L1676 269.5M1601.5 181.9L1601 181.7L1600.6 182.1L1598.4 202.2L1600.5 221.1L1601 221.2L1601.4 220.9L1603.7 201.1L1601.5 181.9ZM1275.6 155.2L1288.7 153L1276 144.8L1266.1 147.4L1275.6 155.2ZM1642.7 110.7L1627.4 96.7L1627 95.7L1626 95.6L1613.7 118.4L1626 129.8L1645.8 125.8L1642.7 110.7ZM985.9 90L999.9 106.8L999.6 107.6L1026 110.5L1038.7 102.7L1042.7 95.4L1027.4 84.3L1038.5 82.3L1026 83.3L1017.7 81.7L1001 70.1L987.2 79.5L985.9 90ZM1050.3 66.2L1038.7 72.8L1034.3 76.4L1049.6 80.2L1038.5 81.6L1051 80.6L1063.3 73.6L1067.7 70L1051 65.7L1050.3 66.2ZM926 204.5L933.2 215.4L934.3 222.2L938.7 231.2L940.4 239.5L936.3 246L938.7 253.2L927.4 261.1L926 261.6M1183.5 45.5L1183.5 51.8L1185.4 54.6L1183.2 59.3L1184.4 60.7L1185 63.7L1181.6 76L1182.3 77.4L1176.3 95.3L1175.4 95.9L1157.4 160.1L1151.6 183L1149 183.9L1127.4 209L1124 208.2L1113.3 194.8L1109.6 182.6L1106.4 177L1102.1 158.5L1098.5 157.7L1088.5 145.7L1077.4 133.6L1074 133.2L1074.9 134.2L1069 154.8L1070.8 159.6L1067.7 176.7L1061.4 193.4L1065.3 204.7L1053.5 217.9L1051 219.5L1049.8 219.6L1049.6 218.4L1040.6 203.1L1041.9 194.1L1035.5 175.4L1036.6 160.9L1039 151.9L1039.9 140.9L1043.7 129.6L1044.3 123L1050.2 109.2L1051.7 108.3L1059.3 97.6L1075.2 74.2L1082.3 71L1081.1 65.2L1076 63.1L1050.3 64.2L1038.7 62.3L1026 72.7L1009.3 61.2L1001 54.3L976 52.5L963.3 50.2L959.3 48.7L959.3 45.5M1442.7 45.5L1442.7 57.1L1426 56.9L1413.3 71.5L1401.6 91L1400.6 91.5L1396.3 130L1389.8 179.6L1387 197.2L1384.7 208.5L1382.9 214.1L1376.4 248.9L1376 249.3L1375.2 249L1370.5 233.2L1367.2 226.9L1363.3 216.1L1352 197.5L1350.6 197.2L1341.1 155.7L1336.6 146.2L1334.3 137.8L1326.7 123.3L1326 122.8L1324.6 123L1313.5 115.8L1301 108.8L1276 108.8L1263.3 105.8L1275.2 105.6L1276.7 104.9L1301 101.7L1324.6 86.2L1326.4 85.5L1331.8 69.9L1331.1 64.7L1329.6 63.9L1329.6 45.5M1676 54.3L1663.5 62.2L1654.5 70.6L1626 67L1617.9 93.5L1601.4 124L1601.7 124.4L1598.5 124.4L1599.6 125.9L1588.7 147.7L1591.1 157.6L1587 171.8L1588.7 183.9L1588.3 184.3L1585.7 205.9L1586.6 213.9L1584.3 227.6L1584.7 227.7L1586.3 235.6L1582.8 250.2L1584.8 256.6L1577 275.7L1551 283.6L1549.6 283.5L1538.5 273.9L1528.5 264.3L1526 264.3L1524.6 265L1513.7 280.4L1502.4 291.8L1501 292.4L1500.2 292.1L1492.3 279.7L1491.6 271.4L1487.5 261.9L1486.6 248.8L1490.7 238.1L1489.6 227.9L1499.8 213.2L1501.7 211.9L1506.2 191.7L1508 187.3L1511.6 173.1L1524.6 146.2L1523.5 144.7L1527.4 144.8L1538.3 127.2L1549.6 106.5L1576 97.3L1580.9 83.4L1579.6 79.8L1576 66.1L1551 58.7L1525.5 70.4L1520.8 87.7L1517.5 92.6L1513.7 103.6L1502.4 115.8L1500.2 116.7L1500.2 115.9L1492.3 100.7L1492.7 100.5L1488.7 92.4L1492.7 81.5L1490.3 71.5L1486.2 59.9L1484.6 53.4L1480.9 50L1479.6 49.9L1479.6 45.5M1619.6 176.8L1617.9 172.4L1625 152.7L1624.6 152.2L1626 151.8L1626.7 152.1L1630.7 174.1L1629.8 177.5L1632.3 196.2L1633.7 202.4L1635.9 217.5L1638.3 227.2L1635.9 239.7L1636.3 239.8L1638 247.2L1634.1 261.4L1636.4 267L1627 288.8L1626 289.3L1625 288.7L1617.9 271.8L1611.6 254.6L1614 242.8L1611.6 233.1L1613.3 221.1L1613.7 220.7L1614.6 211.9L1617 199.1L1616.1 191.5L1619.6 176.8ZM1267.7 243.3L1259.3 229L1261.6 222.3L1250.2 214.6L1242.3 198L1234.3 179.5L1238.3 163.6L1242.7 148.7L1247.4 142.5L1251 119.3L1252.4 120.1L1263.7 135L1259.7 143.8L1256.1 144.8L1259.3 147.3L1263.3 161.2L1275.3 180.9L1274.6 181.9L1278 181L1290.6 173.7L1299.6 157.2L1301 156.2L1301.8 156.7L1307.4 173.4L1306.2 177.9L1309.3 192.1L1307.3 202.8L1310.3 224.8L1308.2 238.3L1309.3 244.1L1306.2 259L1307.4 263.3L1301.7 281.2L1302.4 282L1299 281.6L1288.5 287.5L1277.4 293.1L1276 293.3L1271.4 259.5L1269.7 255.7L1267.7 243.3ZM1076.9 287.1L1076.8 287.8L1076 288L1050.2 290.6L1050.2 289.8L1037.5 277.5L1050.2 264.2L1050 263.4L1051 263.4L1052.4 262.1L1063.3 244L1074.6 233.5L1076 232.6L1077.4 232.6L1077.1 233.7L1091.1 253.6L1089.8 266.7L1076.9 287.1ZM1178.5 45.5L1178.5 52.6L1179.1 53.5L1176 60.4L1151 52.5L1150.3 53L1144.5 70.2L1124.6 70.3L1113.5 61.3L1101 52.5L1076 54.3L1051 52.5L1038.5 47.3L1038.5 45.5M1388.5 45.5L1388.5 67.7L1376 88.6L1357.5 79.2L1351.7 61L1343.9 56.6L1343.9 45.5M1513.5 45.5L1513.5 46.4L1501 49L1493.9 48.1L1493.9 45.5M1613.5 45.5L1613.5 62.1L1609.3 67.7L1608.1 71.7L1601 90.3L1593.9 71.9L1592.7 67.4L1588.5 61.9L1588.5 45.5"/>
<path fill="#2166ac" d="M83.5 476.5L108.5 476.5L133.5 476.5L158.5 476.5L183.5 476.5L208.5 476.5L233.5 476.5L258.5 476.5L283.5 476.5L308.5 476.5L333.5 476.5L358.5 476.5L383.5 476.5L408.5 476.5L433.5 476.5L458.5 476.5L483.5 476.5L508.5 476.5L533.5 476.5L558.5 476.5L583.5 476.5L608.5 476.5L633.5 476.5L658.5 476.5L683.5 476.5L708.5 476.5L733.5 476.5L758.5 476.5L783.5 476.5L808.5 476.5L833.5 476.5L833.5 755.9L808.5 755.9L783.5 755.9L758.5 755.9L733.5 755.9L708.5 755.9L683.5 755.9L658.5 755.9L633.5 755.9L608.5 755.9L583.5 755.9L558.5 755.9L533.5 755.9L508.5 755.9L483.5 755.9L458.5 755.9L433.5 755.9L408.5 755.9L383.5 755.9L358.5 755.9L333.5 755.9L308.5 755.9L283.5 755.9L258.5 755.9L233.5 755.9L208.5 755.9L183.5 755.9L158.5 755.9L133.5 755.9L108.5 755.9L83.5 755.9 Z"/>
<path fill="#2166ac" d="M646 476.5L646 494.1L647.4 501.8L647.4 511.2L649.1 522.4L649.1 530.3L651.4 543.3L651.7 549L654.5 563.1L654.7 566.3L658.5 582.8L668.4 551.8L669.5 542.4L672.1 532.8L673.4 519.9L675.2 512.4L683.5 485.3L708.5 483.5L714.8 480.7L714.8 476.5L752.2 476.5L752.2 480.7L758.5 483.5L764.8 480.5L764.8 476.5L833.5 476.5L833.5 755.9L83.5 755.9L83.5 476.5L646 476.5Z"/>
<path fill="#4494c3" d="M83.5 507.2L84.9 507.2L96 499.3L108.5 491.4L121 489.9L121 476.5L146 476.5L146 477.6L157.8 480.4L158.5 480.9L183.5 480L184.2 479.6L196 477.4L196 476.5L352.2 476.5L352.2 488.3L358.5 494.9L383.5 496.3L408.5 494.9L414.8 488.7L414.8 476.5L641 476.5L641 495.6L641.9 500.2L641.9 514.3L642.9 521L642.9 534.3L644.3 542L644.9 553.7L646.6 562.5L647.2 572L649.6 582.4L653.1 593.8L653.5 598.2L658.5 610.9L666.9 600.9L668.6 592.4L672.9 584.4L675.2 569.3L678.5 559.1L683.5 516.5L684.2 516.4L708.5 502.4L715.6 496.1L716.8 491.7L721 486.2L725.2 482.8L727.2 482L727.2 476.5L739.8 476.5L739.8 482L741.8 482.8L746.2 486.5L750.2 497.5L751.4 502.2L758.5 519.5L765.6 502L766.8 496.9L770.8 485.6L775.2 482.2L777.2 481.3L777.2 476.5L796 476.5L796 482.6L800.1 484.6L808.5 490.6L809.9 490.5L821 485.7L833.5 480.9L833.5 755.9L83.5 755.9L83.5 507.2Z"/>
<path fill="#94c6df" d="M83.5 607.4L84.6 607.1L98.3 587L107.1 573.1L108.9 571.9L113.7 555.3L117 548.5L121 536.9L133 515.4L134.2 515.4L146 526.8L157.8 539.5L158.5 539.8L159.9 539.5L171 533.3L182.1 521.8L184.9 520.8L200 511.9L207.8 503.1L227 500.7L232.8 484L240.6 479L240.6 476.5L339.8 476.5L339.8 493.3L341.9 495.7L341.9 508.5L346 516.9L348.4 525L358 541.9L359.2 542.5L359.9 543.3L371 559.8L382.1 571.6L383.5 572.3L387.1 552.7L387.8 551.6L390.6 537.1L391.9 535.4L408 521.5L421 513.6L421 503L425.1 497L427.2 494.8L427.2 476.5L636 476.5L636.6 538.2L637.1 540.8L638 558.3L638.7 561.8L639.7 577.7L642.4 587.5L643.4 600.9L652.3 622.8L653.5 628.1L658.5 638.2L659.6 638.2L660.5 637.1L677 627.3L682.8 610L684 609L708 547.9L708.9 547.3L718.6 528.4L721 521.9L725.1 513.3L728.3 503.7L729.8 502.3L733.5 488.8L737.2 503.6L738.6 507L741.8 518.8L746 523.5L748.4 530.4L758.5 537.1L768.6 530.7L771 523.5L775.2 518.8L778.4 506.3L779.8 502.8L783.5 487L788.7 500.5L789.9 505.6L793.6 516.4L796 526.8L800.1 540L803.4 555.7L803.9 560.1L808.5 579.3L809.6 579.1L823.3 560.4L832.1 542.7L832.8 541.7L833.5 541.5L833.5 755.9L83.5 755.9L83.5 607.4Z"/>
<path fill="#d3e6f0" d="M83.5 679L109.2 678.4L116.1 662.2L117.2 655.7L121.2 644.8L122.9 633.9L125.2 626.6L127.1 612.3L129.2 604.8L133.1 569.2L133.5 568.8L134.2 569.3L137.4 586.3L140.2 589.3L143.5 601.3L156.5 608.7L158.5 609.2L183.9 601.9L191.8 583.1L196.2 577.6L200.2 569.6L207.8 562.1L208.5 561.7L209.6 562.3L219.1 570.6L223.1 581.6L229.7 590.3L233.1 607.9L233.5 608.3L233.8 608L236.2 587.9L235.8 585.9L239.7 547.5L241.8 539.2L244.8 514.1L249.2 501.1L250.3 494L253.6 487L253.6 477.8L254.9 477L254.9 476.5L266.8 476.5L266.8 486.9L284.2 493.5L307.1 507.9L308.5 508.1L321.2 517.3L325.2 529.4L328.4 535L333.2 553.5L343.7 566L347.8 573.8L350.2 588.1L352.3 593.3L358.5 638.2L359 637.5L364.8 616.4L366.8 611.4L371.2 607.3L375.2 597.3L383.5 596L393.4 591.2L394.5 580.7L398.9 574.6L400.1 557.8L401.2 551.4L404.4 545.6L404.9 542.7L408.5 538L425.2 543.7L432.8 561.1L433.5 561.7L433.9 561.6L440.4 542.5L441.8 535.2L445.8 522.1L446.2 521.8L450.2 506.8L450.2 476.5L466.8 476.5L466.8 478.1L483.5 486.2L484.9 486.2L484.9 485.3L500.2 478.1L500.2 476.5L625.2 476.5L625.2 493.4L620.8 495.6L609.2 510.9L609.2 511.5L591.8 514.4L596.2 520.4L609.2 526.7L616.8 545.2L619.1 553.5L623.2 564.2L623.6 564.4L627.1 579L628.8 583.4L633 603.2L639.9 619.2L643.5 635.1L646.1 640.3L658.3 683.5L673.2 688.5L676.8 700.9L678.8 704.6L683.1 722.2L683.5 722.5L683.9 722L691.2 686.9L693.4 679.2L695.8 668.4L700.2 660L701.6 654.3L707.9 643.9L708.7 643.2L712.2 621.5L716.8 596.7L720.9 576.6L723.6 566.5L725.3 558.1L733.1 548.9L734.9 548.3L758.5 546.8L782.1 549.9L783.5 550.3L783.8 550.7L785.9 572.2L786.5 574.5L788.6 593.4L789.8 598.1L791.8 614L794.1 621.7L795.8 633.7L799.8 645.2L802.2 650L808 668.4L808.5 668.9L833.5 668L833.5 755.9L83.5 755.9L83.5 679Z"/>
<path fill="#e6eff4" d="M83.5 701.4L84.5 701.5L96.2 712.2L100 721.4L103.3 725.4L107.8 739.8L108.5 740.1L109.2 739.7L113.7 727.4L113.7 723.7L116.8 713.1L120.8 706.4L123.2 699.5L132.8 685.7L134.9 684.8L140.2 669L155 653.7L156.5 651.3L158.5 651.3L161 652.3L175 664.2L182.1 675.7L183.5 675.9L190.3 623.2L194.1 615.3L195.8 605.1L208 585.7L208.5 585.4L219.1 599.1L220.8 607.9L225.3 615.7L228.3 655.2L229.3 672.6L229 675.9L230.2 694.1L229.8 696.8L231.3 716L229.6 719.2L232.8 738.6L233.5 739.2L234.2 738.7L237.4 720L237.4 716.8L239.9 700.4L239.9 695.2L241.8 680.7L241.8 673.9L240.7 668L242.1 652.7L241.2 646.4L242.3 631.5L241.5 624.8L242.5 610.3L242.8 609.9L242.1 602.7L243.7 589.5L242.3 582L243.5 568.9L245.9 549.1L250.2 532.4L251.6 519.9L258.5 499.3L259.2 499.5L275.2 515.2L282.8 526.2L283.5 526.6L308.5 519.1L308.9 519.4L318.4 536.4L320.8 545.5L324.9 554.4L333.8 565.6L340.7 578.8L341.8 585.9L346.1 596.3L351.2 635.5L350.7 639.6L358.5 654L364.8 649L366.8 644.2L371.2 639.1L375.2 628.1L377.2 620.9L383 606.2L384.9 605.1L399.8 600L403.4 598.2L405.5 577.2L406.4 575.9L408.5 550.3L409.2 551L414 573.1L434.6 568.5L448.6 567.7L452.1 551.8L453.8 546.9L458 525.5L458.5 524.8L483.5 521.3L486 522L496 531.4L505.5 541.6L509 541.2L512.3 528L513.7 524.4L516.8 513.3L516.8 476.5L616.8 476.5L616.8 489.1L607.8 493.6L600.2 499.8L583.5 502.9L558.5 496.3L557.8 496.7L550.2 512.9L550.2 520.4L558 542.9L558.5 543.3L559.2 542.8L566.8 526.6L582.1 521.6L583.5 521.3L584.2 521.8L596.2 533.5L600.2 545.2L603.4 549.9L608.1 568.3L608.9 569L615.4 586L616.8 592.8L620.8 604.6L633.7 617.5L638.5 638.6L639.8 641.2L650.1 678.1L651.2 685.4L659 694.9L665.4 708.1L666.8 714L670.8 723.7L675.2 732.5L675.2 737.6L682.8 749.6L684.2 749.6L684.2 749L695.8 728.6L695.8 718.1L702.6 690.4L708.1 670.9L708.8 670.3L712.7 658.9L713 656L716.3 645.7L719.4 625.8L729.2 579.8L733.2 563.9L733.5 563.5L734.9 563.4L746 557.8L758.5 552.1L759.2 552.4L767.2 562.3L768.8 570.7L772.9 578.3L775.2 592.8L777.2 597.8L779.7 617L780.6 619.7L783.2 643L784 643.8L789.8 657.2L791.8 663.5L796.2 673.6L800.2 689L803.4 698L808.1 719.4L808.5 719.9L809.2 719.9L821 713.3L832.1 706.3L833.5 706.7L833.5 755.9L83.5 755.9L83.5 701.4Z"/>
<path fill="#fae7dc" d="M591.8 476.5L591.8 482.5L583.5 486.2L557.8 489.6L550.2 491.1L550.2 483.5L545.8 480.2L541.8 477.8L541.8 476.5L591.8 476.5ZM450.2 695.2L450.2 687.4L457.8 665.6L458.5 665.4L459.2 665.6L466.8 687.3L466.8 695.1L459.2 710.7L458.5 711.1L457.8 710.7L450.2 695.2ZM211 686.4L208.8 703.6L208.5 704L208 703.5L204.7 687L205.5 684.3L203.4 669L208.5 630.2L210.7 647.3L212.7 668.2L210.9 684.3L211 686.4ZM258.5 552.1L259.2 552.4L266.8 565.2L282.1 575.2L283.5 575.8L284.2 575.6L307.8 556.6L308.5 556.5L316.7 575.1L321.2 582.1L323.6 589.2L333.7 602.4L337 630.9L335.5 643L336.4 644.6L333.9 657.1L332.5 658.1L323.2 675.3L317 692.6L313.7 699.8L309.2 714L308.5 714.6L307.8 714.1L303.3 700.1L303.3 695.1L293.8 655.8L293.4 655.7L289.9 639.7L288.2 635.8L283.9 613.1L283.5 612.7L281 612.4L267.3 606.5L259.9 592.9L258.5 592.5L258.3 592.1L255.3 574.2L258.5 552.1ZM534.2 567.6L538.7 582.6L542 586.8L545.8 596.5L557.1 606.8L558.5 607.4L559 606.9L565.4 593.5L566.8 587.9L570.8 578.3L575.2 571.8L577.2 567.4L583 559.4L583.5 559.1L583.9 559.6L591.7 576.9L593.7 583.8L595.4 593.7L597.9 603L599.2 610.1L603.4 626.3L608.1 642.1L609.2 642.9L613.7 654.8L631 665.9L632.1 667.2L633.5 667.1L633.7 667.5L637 689.1L638.6 691L634 712.4L633.5 712.8L608.5 704L607.1 704.3L583.5 716.4L582.1 715.8L571.2 707.8L559.9 698.5L558.5 697.9L533.5 691.8L521.2 686L521.2 675.5L516.8 666.2L516.8 651.9L520.8 642.8L521.9 632.4L522.3 632.1L524 622.1L527.5 597.6L533.1 567.3L533.5 567L534.2 567.6ZM759.9 699.9L758.5 700.5L733.5 701.4L733 700.9L729.7 685.7L730.5 682.9L728.4 668.6L729.3 666.2L733.5 634.6L736 634.7L746 625.9L757.1 617.4L758.5 617.1L758.8 617.5L763.6 655.8L764.8 659.3L762.3 676.7L767 684.9L759.9 699.9ZM784.2 735.4L782.8 735.5L775.2 725.6L771.2 719.5L782.1 713.3L783.5 712.8L788.4 723.3L791.8 728.8L784.2 735.4ZM382.8 721.6L375.2 700.8L383 675.5L383.5 675.1L384.2 675.5L391.8 692.1L391.8 700.7L384.2 722.4L382.8 722.4L382.8 721.6Z"/>
<path fill="#fcd7c2" d="M575.2 476.5L575.2 481L558.5 484.4L550.2 479.1L550.2 476.5L575.2 476.5ZM321.2 608.4L322.9 615.4L318.8 625.1L321.2 630.6L318.8 636.4L309.5 648.2L308.5 648.7L308.1 648.6L301.6 632.9L300.2 625.3L295.8 613.4L299.8 602.6L295.8 595.8L307.8 580.4L308.5 580.2L313.6 594.7L317.2 599.2L321.2 608.4ZM566.8 636.7L573.2 613.5L576.8 601.7L578.8 597.9L583 581.6L583.5 581L589.8 614.5L591.2 619.5L593.4 630.9L596.2 639.3L593.8 649.2L595.5 655.7L591.6 667.2L593.9 672.3L584.5 689.6L583.5 690L558.5 682.1L533.5 680.3L525.2 662.3L525.2 655.1L533.2 636.6L533.5 636.4L534.9 636.8L536 638.3L553.3 653.4L557.8 666.6L558.5 667.1L560.5 667.2L559.6 666.2L569.1 644.2L566.8 636.7Z"/>
<path fill="none" stroke="#000" stroke-width="1.25" stroke-dasharray="4.5 1.5 1.5 1.5" mask="url(#lm)" d="M656 476.5L656 491.3L658.5 504.6L663.5 489.4L663.5 478.2L664.8 477.6L664.8 476.5M651 476.5L651 492.7L653 503.4L653 508L655.4 523.7L655.4 526.4L658.5 544.1L663 527.2L663.5 522.9L666.8 508.7L673.6 487.2L673.6 481.6L677.2 479.8L677.2 476.5M646 476.5L646 494.1L647.4 501.8L647.4 511.2L649.1 522.4L649.1 530.3L651.4 543.3L651.7 549L654.5 563.1L654.7 566.3L658.5 582.8L668.4 551.8L669.5 542.4L672.1 532.8L673.4 519.9L675.2 512.4L683.5 485.3L708.5 483.5L714.8 480.7L714.8 476.5M752.2 476.5L752.2 480.7L758.5 483.5L764.8 480.5L764.8 476.5M83.5 507.2L84.9 507.2L96 499.3L108.5 491.4L121 489.9L121 476.5M146 476.5L146 477.6L158.5 480.9L183.5 480L196 477.4L196 476.5M352.2 476.5L352.2 488.3L358.5 494.9L383.5 496.3L408.5 494.9L414.8 488.7L414.8 476.5M641 476.5L641 495.6L641.9 500.2L641.9 514.3L642.9 521L642.9 534.3L644.3 542L644.9 553.7L646.6 562.5L647.2 572L649.6 582.4L653.1 593.8L653.5 598.2L658.5 610.9L666.9 600.9L668.6 592.4L672.9 584.4L675.2 569.3L678.5 559.1L683.5 516.5L708.5 502.4L715.6 496.1L716.8 491.7L721 486.2L725.2 482.8L727.2 482L727.2 476.5M739.8 476.5L739.8 482L741.8 482.8L746.2 486.5L750.2 497.5L751.4 502.2L758.5 519.5L765.6 502L766.8 496.9L770.8 485.6L775.2 482.2L777.2 481.3L777.2 476.5M796 476.5L796 482.6L800.1 484.6L808.5 490.6L809.9 490.5L833.5 480.9M83.5 607.4L84.6 607.1L98.3 587L107.1 573.1L108.9 571.9L113.7 555.3L117 548.5L121 536.9L133 515.4L134.2 515.4L146 526.8L157.8 539.5L159.9 539.5L171 533.3L182.1 521.8L184.9 520.8L200 511.9L207.8 503.1L227 500.7L232.8 484L240.6 479L240.6 476.5M339.8 476.5L339.8 493.3L341.9 495.7L341.9 508.5L346 516.9L348.4 525L358 541.9L359.9 543.3L371 559.8L382.1 571.6L383.5 572.3L387.1 552.7L387.8 551.6L390.6 537.1L391.9 535.4L408 521.5L421 513.6L421 503L425.1 497L427.2 494.8L427.2 476.5M636 476.5L636.6 538.2L639.7 577.7L642.4 587.5L643.4 600.9L652.3 622.8L653.5 628.1L658.5 638.2L659.6 638.2L660.5 637.1L677 627.3L682.8 610L684 609L708 547.9L708.9 547.3L718.6 528.4L721 521.9L725.1 513.3L728.3 503.7L729.8 502.3L733.5 488.8L737.2 503.6L738.6 507L741.8 518.8L746 523.5L748.4 530.4L758.5 537.1L768.6 530.7L771 523.5L775.2 518.8L778.4 506.3L779.8 502.8L783.3 487.5L783.5 487L783.9 487.4L788.7 500.5L800.1 540L803.4 555.7L803.9 560.1L808.5 579.3L809.6 579.1L823.3 560.4L832.1 542.7L832.8 541.7L833.5 541.5M83.5 679L109.2 678.4L116.1 662.2L117.2 655.7L121.2 644.8L122.9 633.9L125.2 626.6L127.1 612.3L129.2 604.8L133.1 569.2L133.5 568.8L134.2 569.3L137.4 586.3L140.2 589.3L143.5 601.3L156.5 608.7L158.5 609.2L183.9 601.9L191.8 583.1L196.2 577.6L200.2 569.6L208.5 561.7L219.1 570.6L223.1 581.6L229.7 590.3L233.1 607.9L233.5 608.3L233.8 608L236.2 587.9L235.8 585.9L239.7 547.5L241.8 539.2L244.8 514.1L249.2 501.1L250.3 494L253.6 487L253.6 477.8L254.9 477L254.9 476.5M266.8 476.5L266.8 486.9L284.2 493.5L307.1 507.9L308.5 508.1L321.2 517.3L325.2 529.4L328.4 535L333.2 553.5L343.7 566L347.8 573.8L350.2 588.1L352.3 593.3L358.5 638.2L364.8 616.4L366.8 611.4L371.2 607.3L375.2 597.3L383.5 596L393.4 591.2L394.5 580.7L398.9 574.6L400.1 557.8L401.2 551.4L404.4 545.6L404.9 542.7L408.5 538L425.2 543.7L432.8 561.1L433.5 561.7L433.9 561.6L440.4 542.5L441.8 535.2L446.2 521.8L450.2 506.8L450.2 476.5M466.8 476.5L466.8 478.1L483.5 486.2L484.9 486.2L484.9 485.3L500.2 478.1L500.2 476.5M625.2 476.5L625.2 493.4L620.8 495.6L609.2 510.9L609.2 511.5L591.8 514.4L596.2 520.4L609.2 526.7L616.8 545.2L619.1 553.5L623.6 564.4L627.1 579L628.8 583.4L633 603.2L639.9 619.2L643.5 635.1L646.1 640.3L658.3 683.5L673.2 688.5L676.8 700.9L678.8 704.6L683.1 722.2L683.5 722.5L683.9 722L691.2 686.9L695.8 668.4L700.2 660L701.6 654.3L708.7 643.2L712.2 621.5L716.8 596.7L720.9 576.6L723.6 566.5L725.3 558.1L733.5 548.5L758.5 546.8L783.5 550.3L788.6 593.4L789.8 598.1L791.8 614L794.1 621.7L795.8 633.7L799.8 645.2L802.2 650L808 668.4L808.5 668.9L833.5 668M83.5 701.4L84.5 701.5L96.2 712.2L100 721.4L103.3 725.4L107.8 739.8L108.5 740.1L109.2 739.7L113.7 727.4L113.7 723.7L116.8 713.1L120.8 706.4L123.2 699.5L132.8 685.7L134.9 684.8L140.2 669L155 653.7L156.5 651.3L158.5 651.3L161 652.3L175 664.2L182.1 675.7L183.5 675.9L190.3 623.2L194.1 615.3L195.8 605.1L208.5 585.4L219.1 599.1L220.8 607.9L225.3 615.7L228.3 655.2L229.3 672.6L229 675.9L230.2 694.1L229.8 696.8L231.3 716L229.6 719.2L232.8 738.6L233.5 739.2L234.2 738.7L237.4 720L237.4 716.8L239.9 700.4L239.9 695.2L241.8 680.7L241.8 673.9L240.7 668L242.1 652.7L241.2 646.4L242.3 631.5L241.5 624.8L242.5 610.3L242.8 609.9L242.1 602.7L243.7 589.5L242.3 582L243.5 568.9L245.9 549.1L250.2 532.4L251.6 519.9L258.5 499.3L259.2 499.5L275.2 515.2L282.8 526.2L283.5 526.6L308.5 519.1L308.9 519.4L318.4 536.4L320.8 545.5L324.9 554.4L333.8 565.6L340.7 578.8L341.8 585.9L346.1 596.3L351.2 635.5L350.7 639.6L358.5 654L364.8 649L366.8 644.2L371.2 639.1L375.2 628.1L377.2 620.9L383 606.2L384.9 605.1L399.8 600L403.4 598.2L405.5 577.2L406.4 575.9L408.5 550.3L409.2 551L414 573.1L434.6 568.5L448.6 567.7L452.1 551.8L453.8 546.9L458 525.5L458.5 524.8L483.5 521.3L486 522L496 531.4L505.5 541.6L509 541.2L512.3 528L513.7 524.4L516.8 513.3L516.8 476.5M616.8 476.5L616.8 489.1L607.8 493.6L600.2 499.8L583.5 502.9L558.5 496.3L557.8 496.7L550.2 512.9L550.2 520.4L558 542.9L558.5 543.3L559.2 542.8L566.8 526.6L582.1 521.6L583.5 521.3L584.2 521.8L596.2 533.5L600.2 545.2L603.4 549.9L608.1 568.3L608.9 569L615.4 586L616.8 592.8L620.8 604.6L633.7 617.5L638.5 638.6L639.8 641.2L650.1 678.1L651.2 685.4L659 694.9L665.4 708.1L666.8 714L670.8 723.7L675.2 732.5L675.2 737.6L682.8 749.6L684.2 749.6L684.2 749L695.8 728.6L695.8 718.1L702.6 690.4L708.1 670.9L708.8 670.3L712.7 658.9L713 656L716.3 645.7L719.4 625.8L729.2 579.8L733.2 563.9L758.5 552.1L759.2 552.4L767.2 562.3L768.8 570.7L772.9 578.3L775.2 592.8L777.2 597.8L779.7 617L780.6 619.7L783.2 643L784 643.8L789.8 657.2L791.8 663.5L796.2 673.6L800.2 689L803.4 698L808.1 719.4L809.2 719.9L821 713.3L832.1 706.3L833.5 706.7M591.8 476.5L591.8 482.5L583.5 486.2L557.8 489.6L550.2 491.1L550.2 483.5L541.8 477.8L541.8 476.5M450.2 695.2L450.2 687.4L457.8 665.6L458.5 665.4L459.2 665.6L466.8 687.3L466.8 695.1L459.2 710.7L458.5 711.1L457.8 710.7L450.2 695.2ZM211 686.4L208.8 703.6L208.5 704L208 703.5L204.7 687L205.5 684.3L203.4 669L208.5 630.2L212.7 668.2L210.9 684.3L211 686.4ZM258.5 552.1L259.2 552.4L266.8 565.2L282.1 575.2L283.5 575.8L308.5 556.5L316.7 575.1L321.2 582.1L323.6 589.2L333.7 602.4L337 630.9L335.5 643L336.4 644.6L333.9 657.1L332.5 658.1L323.2 675.3L317 692.6L313.7 699.8L309.2 714L308.5 714.6L307.8 714.1L303.3 700.1L303.3 695.1L293.8 655.8L293.4 655.7L289.9 639.7L288.2 635.8L283.9 613.1L281 612.4L267.3 606.5L259.9 592.9L258.3 592.1L255.3 574.2L258.5 552.1ZM534.2 567.6L538.7 582.6L542 586.8L545.8 596.5L557.1 606.8L558.5 607.4L565.4 593.5L566.8 587.9L570.8 578.3L575.2 571.8L577.2 567.4L583 559.4L583.5 559.1L583.9 559.6L591.7 576.9L593.7 583.8L595.4 593.7L597.9 603L599.2 610.1L603.4 626.3L608.1 642.1L609.2 642.9L613.7 654.8L631 665.9L632.1 667.2L633.7 667.5L637 689.1L638.6 691L634 712.4L633.5 712.8L608.5 704L607.1 704.3L583.5 716.4L582.1 715.8L571.2 707.8L559.9 698.5L533.5 691.8L521.2 686L521.2 675.5L516.8 666.2L516.8 651.9L520.8 642.8L521.9 632.4L522.3 632.1L524 622.1L527.5 597.6L533.1 567.3L533.5 567L534.2 567.6ZM759.9 699.9L758.5 700.5L733.5 701.4L733 700.9L729.7 685.7L730.5 682.9L728.4 668.6L729.3 666.2L733.5 634.6L736 634.7L746 625.9L757.1 617.4L758.5 617.1L763.6 655.8L764.8 659.3L762.3 676.7L767 684.9L759.9 699.9ZM784.2 735.4L782.8 735.5L775.2 725.6L771.2 719.5L783.5 712.8L788.4 723.3L791.8 728.8L784.2 735.4ZM382.8 721.6L375.2 700.8L383 675.5L383.5 675.1L384.2 675.5L391.8 692.1L391.8 700.7L384.2 722.4L382.8 722.4L382.8 721.6ZM575.2 476.5L575.2 481L558.5 484.4L550.2 479.1L550.2 476.5M321.2 608.4L322.9 615.4L318.8 625.1L321.2 630.6L318.8 636.4L309.5 648.2L308.1 648.6L301.6 632.9L300.2 625.3L295.8 613.4L299.8 602.6L295.8 595.8L307.8 580.4L308.5 580.2L313.6 594.7L317.2 599.2L321.2 608.4ZM566.8 636.7L573.2 613.5L576.8 601.7L578.8 597.9L583 581.6L583.5 581L589.8 614.5L593.4 630.9L596.2 639.3L593.8 649.2L595.5 655.7L591.6 667.2L593.9 672.3L584.5 689.6L583.5 690L558.5 682.1L533.5 680.3L525.2 662.3L525.2 655.1L533.2 636.6L534.9 636.8L536 638.3L553.3 653.4L557.8 666.6L558.5 667.1L560.5 667.2L559.6 666.2L569.1 644.2L566.8 636.7Z"/>
<path fill="#2166ac" d="M926 476.5L951 476.5L976 476.5L1001 476.5L1026 476.5L1051 476.5L1076 476.5L1101 476.5L1126 476.5L1151 476.5L1176 476.5L1201 476.5L1226 476.5L1251 476.5L1276 476.5L1301 476.5L1326 476.5L1351 476.5L1376 476.5L1401 476.5L1426 476.5L1451 476.5L1476 476.5L1501 476.5L1526 476.5L1551 476.5L1576 476.5L1601 476.5L1626 476.5L1651 476.5L1676 476.5L1676 755.9L1651 755.9L1626 755.9L1601 755.9L1576 755.9L1551 755.9L1526 755.9L1501 755.9L1476 755.9L1451 755.9L1426 755.9L1401 755.9L1376 755.9L1351 755.9L1326 755.9L1301 755.9L1276 755.9L1251 755.9L1226 755.9L1201 755.9L1176 755.9L1151 755.9L1126 755.9L1101 755.9L1076 755.9L1051 755.9L1026 755.9L1001 755.9L976 755.9L951 755.9L926 755.9 Z"/>
<path fill="#2166ac" d="M1676 550.5L1676 755.9L926 755.9L926 476.5L1676 476.5L1676 550.5Z"/>
<path fill="#4494c3" d="M926 479.1L926.7 478.7L938.5 477.2L938.5 476.5L1022.4 476.5L1022.4 493.6L1026 509.9L1038.5 495.6L1050.3 479.9L1050.3 479.4L1051.7 478.8L1063.5 478.9L1063.5 476.5L1213.5 476.5L1213.5 491.5L1217.7 496.7L1218.9 501.7L1226 518.2L1230.5 499.1L1230.1 495.9L1230.1 478.5L1229.6 476.5L1513.5 476.5L1513.5 477.6L1517.7 478.1L1517.7 484.7L1526 496.3L1551.7 489.5L1563.5 489L1563.5 476.5L1676 476.5L1676 755.9L926 755.9L926 479.1Z"/>
<path fill="#94c6df" d="M926 540.2L951 539.3L976 541.5L981 534.5L976 527.5L974.6 526.9L975.3 526.5L963.5 504.9L963.5 476.5L1015.3 476.5L1015.3 494.3L1017.6 504.9L1017.6 511.4L1021 529.9L1020.7 537.9L1026 557.3L1033.7 536.5L1034.3 530.5L1038.5 527L1042.6 517L1050.6 517.2L1063.5 505.5L1075.3 484.3L1076.2 483.1L1081 479.3L1081 476.5L1193.9 476.5L1193.9 477L1192.6 477.8L1192.6 483.9L1200.6 494.4L1200.3 494.9L1201.2 495.3L1204.7 510.5L1206.2 513.9L1209.4 526.2L1226 533.6L1236.2 520.6L1237.2 512.9L1239.6 502.5L1238.4 492.9L1238.4 482.4L1236.7 479.1L1236.7 476.5L1271 476.5L1271 477.7L1269.8 479.5L1269.8 496.3L1268.9 501.2L1276 521.3L1301 511.6L1326 507.2L1351.7 504.5L1351.5 504.1L1361.1 498.8L1351.5 496.2L1325.3 485.2L1325.3 484.7L1313.5 478.7L1313.5 476.5L1498.5 476.5L1498.5 478.5L1500.9 480.5L1501.4 481.5L1502.5 502.9L1502.9 504.4L1504.2 524.4L1505.5 527.7L1507 545.3L1510.5 552.1L1512.1 565.1L1524.3 579.9L1524.6 581.3L1526.6 580.7L1534.5 560.4L1536.8 552.3L1540.9 541L1544.5 527.3L1546.2 522.2L1550.6 504L1551.7 503.8L1576 513.4L1576.7 513.3L1592.5 499.7L1600.3 482.8L1601.7 482.2L1613.5 480L1613.5 476.5L1676 476.5L1676 755.9L926 755.9L926 540.2Z"/>
<path fill="#d3e6f0" d="M926 725.1L951 724.3L951.4 723.8L956.1 706.4L963.3 683.1L963.7 682.8L959.7 668.9L961.3 659.9L952 641L952.4 639.8L949.6 640.5L938.3 652.4L927.4 658.2L926 658.4L926 629.4L952.4 626.7L953.5 624.4L967.5 606.2L974.6 582.7L975.3 581.4L976.5 580.5L986.6 566.2L985.3 558.4L989.5 548.3L988.4 538.2L991 534.5L988.4 530.8L988.4 521.2L984.3 506.4L984.3 476.5L1008.1 476.5L1008.1 495.1L1009.3 500.4L1009.3 513.3L1011 522.5L1011 534.1L1010 546.5L1012.5 555.5L1011.2 566.7L1025.5 584.8L1025.3 585.3L1026 585.4L1040.4 576.6L1042.7 564.9L1046.1 560.8L1048.1 544.6L1049 542.2L1051 523.9L1052.4 524.5L1059.5 537.7L1073.5 542.1L1076 542.4L1076.4 542L1081.1 530.1L1081.1 525.8L1084.3 515L1084.3 507.9L1088.4 490.8L1088.4 480.2L1091 477.9L1091 476.5L1142.7 476.5L1142.7 490.7L1151.7 499L1163.3 511.8L1175.2 527.7L1176.7 528.7L1200.2 564.8L1201 565.2L1226 561.7L1235.3 553.8L1236.6 546.4L1240.8 540.3L1242.4 528.2L1246.2 523.2L1248.7 506L1246.7 490L1246.7 486.4L1243.9 480.9L1243.9 476.5L1261 476.5L1261 480.2L1257.4 485.4L1257.4 491.1L1254.6 505.7L1255.9 509.6L1259.1 523.3L1263.7 532.3L1265.4 541.6L1275.6 557.1L1302.4 555.5L1326 547.7L1327.4 547.8L1349.6 558L1351 558.2L1352.4 557.6L1363.7 549.3L1374.6 543.7L1376.8 543.2L1386.3 530.4L1388.7 522.8L1392.7 516.2L1395.8 504.1L1392.5 500.1L1399.6 486.2L1388.5 483.4L1401 485.3L1406 481L1405.2 480.5L1405.2 476.5L1493.5 476.5L1493.5 478L1495.4 479.6L1495.5 480.2L1495.7 500.2L1494.2 505.9L1494.4 522.1L1493.3 525.3L1492.6 529.8L1492.9 544.5L1492 549.2L1492.3 563.5L1491.8 572.5L1492.1 586.7L1491.6 595.9L1492 609.8L1491.4 619.3L1492.4 633.2L1491.8 642.4L1493 656.5L1493 664.6L1496.1 697.4L1496.1 702.4L1498.1 721.7L1498.1 724.6L1500.6 746L1501 746.2L1501.4 745.8L1503.9 724.2L1504.6 722.3L1507.1 704.6L1509.4 700.7L1511.6 687.7L1515.7 672.6L1517.3 664.2L1520.5 653.4L1521.4 649.1L1525.4 636.7L1527.4 635.9L1549.6 620.2L1551.4 619.5L1555.5 601L1556 596.8L1559.1 581.7L1559.9 574.1L1564 552.5L1565.1 541.2L1569.1 537L1570.2 532.2L1576 530.1L1576.7 530.2L1577.4 531L1592.7 540.3L1600.4 559.7L1601 560L1601.8 559.7L1611.3 541.2L1613.7 531.6L1617.7 522.5L1620.8 507.6L1622.2 503.6L1625.5 485.1L1626 484.4L1626.7 484.5L1631.2 502.3L1631.2 506.5L1634.3 520.8L1634.3 527.5L1636.6 539.7L1640.7 558.2L1641.1 558.4L1644.6 572.3L1645.6 578.1L1650.4 595.4L1651 596L1653.2 595.5L1664.3 585.5L1666.5 573.6L1669.9 568.3L1672.1 551.4L1673.2 548.9L1675.3 528.9L1676 528.3L1676 755.9L926 755.9L926 725.1ZM1179.6 476.5L1179.6 478L1176 480L1167.7 477.7L1167.7 476.5L1179.6 476.5ZM1384.3 476.5L1384.3 479.4L1376 480.9L1367.7 478L1367.7 476.5L1384.3 476.5ZM1559.3 662.5L1551 646.9L1548.5 647.8L1531.2 655.9L1536.6 677.4L1550.2 692.5L1551 692.6L1551.4 692.3L1559.3 676.9L1559.3 662.5Z"/>
<path fill="#e6eff4" d="M926 742.7L951 741L959.3 734.4L959.3 728.4L963.7 721.9L966.1 713.2L976 683.8L979.5 684.8L994.3 692.4L999.6 707.8L1001 708.4L1002.4 707.7L1007.7 692L1022.5 683.3L1026.7 681.6L1031.2 661.9L1036.6 641.4L1040.6 629.1L1042.9 620.6L1050 600.2L1051 599.5L1052.4 599.2L1059.5 587L1063.3 577.2L1067.2 569.6L1075 547.8L1076 547.7L1088.3 541.5L1091.1 535.1L1091.1 522.4L1092.7 517L1092.7 502.8L1094.7 494.2L1094.7 478.4L1096 477.2L1096 476.5L1134.3 476.5L1134.3 493.8L1138.7 497.9L1142.7 505L1142.7 511.8L1150.3 519.1L1151.8 520.2L1159.7 536.3L1163.7 542.7L1167.7 550.3L1175.3 561.4L1176.8 562.2L1184.7 578L1188.7 593.7L1192.7 604L1195.8 618.1L1197.2 622.3L1200.5 639.4L1201 639.9L1201.7 639.4L1206.2 624.1L1223.5 607.5L1224.6 605.8L1227.1 605.2L1236.6 592L1234.3 583.7L1236.6 575.4L1240.7 563.3L1244.7 560L1247.2 545.1L1248.3 543.5L1251 524.8L1251.4 525.4L1254.8 543.9L1257.4 547.8L1260.9 561.3L1274.9 571.6L1277.4 572.5L1288.5 579.7L1298.5 587.7L1302.4 587.1L1324.6 574.2L1326 574L1327.4 574.4L1349.6 590.5L1351 590.7L1352.4 590.1L1363.3 580.3L1375.2 564.5L1378 564.7L1388.5 557.8L1401.7 550.7L1406.2 536.9L1403.9 534.1L1405.9 520.7L1405.2 516.2L1408 491.3L1407.2 484.6L1411.1 481L1409.3 480.2L1409.3 476.5L1491 476.5L1491 477.8L1492.6 479.2L1492.7 479.7L1492.9 498.6L1490.5 507.3L1490.7 520.3L1488.9 525.3L1487.8 532.2L1488.1 542.8L1486.6 550.3L1486.8 559.8L1486 574.5L1486.2 583.4L1485.3 598.8L1485.6 607.2L1484.5 623.5L1485.1 631.1L1483.9 648.2L1484.5 655.2L1484.5 672L1486.1 688.4L1486.1 703.7L1487.1 713.3L1487.1 727.5L1488.3 738L1488.3 751L1501 753.2L1509.3 751.8L1509.3 747L1513.7 743.7L1514.9 733.7L1514.9 725.8L1518.7 716.3L1519.6 710.3L1526 698.8L1526.8 698.9L1536.3 710.3L1538.7 716.4L1542.7 722.1L1545.8 731.5L1545.8 734.5L1550.3 745.7L1551 746.2L1551.7 746.2L1559.3 724.4L1559.3 717.2L1561.6 708.9L1561.6 699.8L1563.3 692L1567.7 684L1567.7 655.1L1563.3 647.2L1559.3 638.2L1560.6 630.6L1565 623.2L1566.7 610.2L1568.2 603.3L1570.1 587.2L1571 582.7L1573.1 563.9L1573.8 560L1575.7 540.1L1576 539.8L1576.7 540.7L1580.5 561.3L1591.4 613.8L1600.3 651.7L1601 652.2L1601.7 652.1L1625.2 562L1626 561.7L1626.4 562L1630.2 584.5L1631.5 588.5L1634.7 605.5L1641.1 650.3L1642.7 665.5L1642.7 673.6L1644.6 690.5L1644.6 696.7L1647.1 715.7L1647.1 719.5L1650.3 741.2L1651 741.8L1676 747.1L1676 755.9L926 755.9L926 742.7ZM1004.6 476.5L1004.6 495.5L1005.1 498.1L1005.1 514.2L1006 518.8L1006 534.3L1004.6 550.8L1005.6 554.4L1003.7 571.3L1007.4 576L1001.8 591.9L1001 592.5L1000.2 591.8L994.3 575.2L997.2 571.2L994.7 555.6L996.4 551.5L994.7 536.3L996 534.5L994.7 532.6L994.7 518.2L992.7 510.8L992.7 476.5L1004.6 476.5ZM1256 476.5L1256 481.4L1251 488.8L1247.4 481.8L1247.4 476.5L1256 476.5ZM1259.3 666.1L1251.7 643.5L1252 642.8L1251 642.5L1249.6 643.3L1238.7 658.8L1227.4 665.2L1224 665.3L1224.9 666.3L1215.4 681.7L1217.7 688.5L1225.3 701.8L1226 702.3L1227.4 702.3L1249.6 691.6L1251 691.8L1251.7 691.3L1259.3 673.8L1259.3 666.1Z"/>
<path fill="#fae7dc" d="M1486 476.5L1486 477.4L1487.1 478.6L1487.3 495.3L1483.3 510.1L1483.4 516.6L1480.2 525.2L1478.4 537.2L1478.4 539.3L1476.2 551.7L1475.2 552.7L1469.9 573.5L1469.2 579.6L1465.7 595.5L1464.6 605.8L1462.2 617.8L1460.9 631.4L1459.3 640.2L1457.9 656.7L1457.9 663.7L1456.2 681.6L1456.2 686.9L1454.2 706.3L1454.2 709.6L1451.7 730.9L1449.6 731.3L1438.5 739.6L1426 748L1401 740.1L1388.5 730.8L1377.4 721.9L1351 712.8L1326 717.2L1323.5 716.9L1313.5 724.3L1301.7 731.1L1300.3 731L1292.7 697.2L1292.7 689.6L1295.8 674.2L1295.8 669.4L1300.4 650.6L1326 645.2L1327.4 645.3L1338.5 651.8L1348.5 658.6L1351 658.4L1376 651.3L1378 652L1386.7 663.3L1398.5 675.7L1401 676.8L1401.8 676.8L1408.6 658.6L1409.7 651.7L1413.7 639.7L1415.4 628.4L1417.7 620.4L1419.6 605.7L1420.8 600.8L1425.6 561L1439.5 553.6L1438.7 540.7L1425.7 530.7L1421.8 508L1422.4 503L1419.8 482.3L1421.1 481.2L1420.9 480.6L1417.7 479.4L1417.7 476.5L1486 476.5ZM1100.5 604.2L1126 599.5L1151 602.1L1151.7 602.6L1159.3 616.3L1163.3 625.2L1167.7 633L1175.3 651.5L1176.4 652.7L1182.9 690.1L1184.3 695.6L1181.2 711.7L1181.2 715.7L1176.7 736.2L1176 736.6L1174.6 736.4L1163.5 743.1L1151 749.7L1150.3 749.6L1142.7 730.6L1126 718.1L1100.3 708L1095.8 686.7L1095.8 681.2L1092.7 663.4L1092.7 654.7L1100.5 604.2Z"/>
<path fill="#fcd7c2" d="M1483.5 476.5L1483.5 477.2L1484.4 478.1L1484.5 493.7L1479.6 511.6L1479.7 514.8L1476 524.8L1474.6 525L1452.4 535.2L1451 535.4L1450.2 534.9L1442.3 524.4L1438.3 513.4L1432.3 502.8L1426.5 481.5L1425.9 480.5L1421.8 479.1L1421.8 476.5L1483.5 476.5ZM1124.6 665.2L1126.7 665.3L1127.4 664.6L1134.5 651.3L1148.5 641.1L1149.6 639.8L1151.5 640.1L1159.7 655L1161.3 663.4L1165.4 673L1161.3 682.3L1163.7 691.5L1152.4 704L1152 705L1125.2 704.7L1125 703.7L1111.6 683.4L1125 666.4L1124.6 665.2ZM1439.5 700.9L1426 702.3L1400 701.2L1386.6 701.5L1400 695.9L1401.7 694.9L1426 686.5L1440.4 687.3L1439.5 700.9Z"/>
<path fill="#f19e7d" d="M1478.5 476.5L1478.8 477L1478.8 490.4L1476 501.1L1459.5 491.8L1451.7 479.4L1450.3 478.8L1438.5 478.3L1438.5 476.5L1478.5 476.5Z"/>
<path fill="none" stroke="#000" stroke-width="1.25" stroke-dasharray="4.5 1.5 1.5 1.5" mask="url(#lm)" d="M926 479.1L938.5 477.2L938.5 476.5M1022.4 476.5L1022.4 493.6L1026 509.9L1038.5 495.6L1050.3 479.4L1051.7 478.8L1063.5 478.9L1063.5 476.5M1213.5 476.5L1213.5 491.5L1217.7 496.7L1218.9 501.7L1226 518.2L1230.5 499.1L1230.1 495.9L1230.1 478.5L1229.6 476.5M1513.5 476.5L1513.5 477.6L1517.7 478.1L1517.7 484.7L1526 496.3L1551.7 489.5L1563.5 489L1563.5 476.5M926 540.2L951 539.3L976 541.5L981 534.5L976 527.5L974.6 526.9L975.3 526.5L963.5 504.9L963.5 476.5M1015.3 476.5L1015.3 494.3L1017.6 504.9L1017.6 511.4L1021 529.9L1020.7 537.9L1026 557.3L1033.7 536.5L1034.3 530.5L1038.5 527L1042.6 517L1050.6 517.2L1063.5 505.5L1075.3 484.3L1081 479.3L1081 476.5M1193.9 476.5L1193.9 477L1192.6 477.8L1192.6 483.9L1200.6 494.4L1200.3 494.9L1201.2 495.3L1204.7 510.5L1206.2 513.9L1209.4 526.2L1226 533.6L1236.2 520.6L1237.2 512.9L1239.6 502.5L1238.4 492.9L1238.4 482.4L1236.7 479.1L1236.7 476.5M1271 476.5L1271 477.7L1269.8 479.5L1269.8 496.3L1268.9 501.2L1276 521.3L1301 511.6L1326 507.2L1351.7 504.5L1351.5 504.1L1361.1 498.8L1351.5 496.2L1325.3 485.2L1325.3 484.7L1313.5 478.7L1313.5 476.5M1498.5 476.5L1498.5 478.5L1500.9 480.5L1501.4 481.5L1502.5 502.9L1502.9 504.4L1504.2 524.4L1505.5 527.7L1507 545.3L1510.5 552.1L1512.1 565.1L1524.3 579.9L1524.6 581.3L1526.6 580.7L1534.5 560.4L1536.8 552.3L1540.9 541L1546.2 522.2L1550.6 504L1551.7 503.8L1576 513.4L1576.7 513.3L1592.5 499.7L1600.3 482.8L1613.5 480L1613.5 476.5M926 725.1L951 724.3L951.4 723.8L956.1 706.4L963.7 682.8L959.7 668.9L961.3 659.9L952 641L952.4 639.8L949.6 640.5L938.3 652.4L927.4 658.2L926 658.4M926 629.4L952.4 626.7L953.5 624.4L967.5 606.2L974.6 582.7L986.6 566.2L985.3 558.4L989.5 548.3L988.4 538.2L991 534.5L988.4 530.8L988.4 521.2L984.3 506.4L984.3 476.5M1008.1 476.5L1008.1 495.1L1009.3 500.4L1009.3 513.3L1011 522.5L1011 534.1L1010 546.5L1012.5 555.5L1011.2 566.7L1025.5 584.8L1025.3 585.3L1026 585.4L1040.4 576.6L1042.7 564.9L1046.1 560.8L1048.1 544.6L1049 542.2L1051 523.9L1052.4 524.5L1059.5 537.7L1073.5 542.1L1076 542.4L1076.4 542L1081.1 530.1L1081.1 525.8L1084.3 515L1084.3 507.9L1088.4 490.8L1088.4 480.2L1091 477.9L1091 476.5M1142.7 476.5L1142.7 490.7L1151.7 499L1163.3 511.8L1175.2 527.7L1176.7 528.7L1200.2 564.8L1201 565.2L1226 561.7L1235.3 553.8L1236.6 546.4L1240.8 540.3L1242.4 528.2L1246.2 523.2L1248.7 506L1246.7 490L1246.7 486.4L1243.9 480.9L1243.9 476.5M1179.6 476.5L1179.6 478L1176 480L1167.7 477.7L1167.7 476.5M1261 476.5L1261 480.2L1257.4 485.4L1257.4 491.1L1254.6 505.7L1255.9 509.6L1259.1 523.3L1263.7 532.3L1265.4 541.6L1275.6 557.1L1302.4 555.5L1326 547.7L1327.4 547.8L1349.6 558L1351 558.2L1352.4 557.6L1363.7 549.3L1374.6 543.7L1376.8 543.2L1386.3 530.4L1388.7 522.8L1392.7 516.2L1395.8 504.1L1392.5 500.1L1399.6 486.2L1388.5 483.4L1401 485.3L1406 481L1405.2 480.5L1405.2 476.5M1384.3 476.5L1384.3 479.4L1376 480.9L1367.7 478L1367.7 476.5M1493.5 476.5L1493.5 478L1495.5 480.2L1495.7 500.2L1494.2 505.9L1494.4 522.1L1493.3 525.3L1492.6 529.8L1492.9 544.5L1492 549.2L1492.1 586.7L1491.6 595.9L1492 609.8L1491.4 619.3L1492.4 633.2L1491.8 642.4L1493 656.5L1493 664.6L1496.1 697.4L1496.1 702.4L1498.1 724.6L1500.6 746L1501 746.2L1501.4 745.8L1503.9 724.2L1504.6 722.3L1507.1 704.6L1509.4 700.7L1511.6 687.7L1515.7 672.6L1517.3 664.2L1521.4 649.1L1525.4 636.7L1527.4 635.9L1549.6 620.2L1551.4 619.5L1555.5 601L1559.1 581.7L1559.9 574.1L1564 552.5L1565.1 541.2L1569.1 537L1570.2 532.2L1576.7 530.2L1577.4 531L1592.7 540.3L1600.4 559.7L1601 560L1601.8 559.7L1611.3 541.2L1613.7 531.6L1617.7 522.5L1620.8 507.6L1622.2 503.6L1625.5 485.1L1626 484.4L1626.7 484.5L1631.2 502.3L1631.2 506.5L1634.3 520.8L1634.3 527.5L1636.6 539.7L1640.7 558.2L1644.6 572.3L1645.6 578.1L1650.4 595.4L1651 596L1653.2 595.5L1664.3 585.5L1666.5 573.6L1669.9 568.3L1672.1 551.4L1673.2 548.9L1675.3 528.9L1676 528.3M1559.3 662.5L1551 646.9L1531.2 655.9L1536.6 677.4L1550.2 692.5L1551.4 692.3L1559.3 676.9L1559.3 662.5ZM926 742.7L951 741L959.3 734.4L959.3 728.4L963.7 721.9L966.1 713.2L976 683.8L979.5 684.8L994.3 692.4L999.6 707.8L1001 708.4L1002.4 707.7L1007.7 692L1022.5 683.3L1026.7 681.6L1031.2 661.9L1036.6 641.4L1040.6 629.1L1042.9 620.6L1050 600.2L1052.4 599.2L1059.5 587L1063.3 577.2L1067.2 569.6L1075 547.8L1088.3 541.5L1091.1 535.1L1091.1 522.4L1092.7 517L1092.7 502.8L1094.7 494.2L1094.7 478.4L1096 477.2L1096 476.5M1004.6 476.5L1004.6 495.5L1005.1 498.1L1005.1 514.2L1006 518.8L1006 534.3L1004.6 550.8L1005.6 554.4L1003.7 571.3L1007.4 576L1001.8 591.9L1001 592.5L1000.2 591.8L994.3 575.2L997.2 571.2L994.7 555.6L996.4 551.5L994.7 536.3L996 534.5L994.7 532.6L994.7 518.2L992.7 510.8L992.7 476.5M1134.3 476.5L1134.3 493.8L1138.7 497.9L1142.7 505L1142.7 511.8L1151.8 520.2L1159.7 536.3L1167.7 550.3L1175.3 561.4L1176.8 562.2L1184.7 578L1188.7 593.7L1192.7 604L1195.8 618.1L1197.2 622.3L1200.5 639.4L1201 639.9L1201.7 639.4L1206.2 624.1L1223.5 607.5L1224.6 605.8L1227.1 605.2L1236.6 592L1234.3 583.7L1240.7 563.3L1244.7 560L1247.2 545.1L1248.3 543.5L1251 524.8L1254.8 543.9L1257.4 547.8L1260.9 561.3L1274.9 571.6L1277.4 572.5L1288.5 579.7L1298.5 587.7L1302.4 587.1L1324.6 574.2L1326 574L1327.4 574.4L1349.6 590.5L1351 590.7L1352.4 590.1L1363.3 580.3L1375.2 564.5L1378 564.7L1388.5 557.8L1401.7 550.7L1406.2 536.9L1403.9 534.1L1405.9 520.7L1405.2 516.2L1408 491.3L1407.2 484.6L1411.1 481L1409.3 480.2L1409.3 476.5M1256 476.5L1256 481.4L1251 488.8L1247.4 481.8L1247.4 476.5M1491 476.5L1491 477.8L1492.7 479.7L1492.9 498.6L1490.5 507.3L1490.7 520.3L1488.9 525.3L1487.8 532.2L1488.1 542.8L1486.6 550.3L1486.8 559.8L1486 574.5L1486.2 583.4L1485.3 598.8L1485.6 607.2L1484.5 623.5L1485.1 631.1L1483.9 648.2L1484.5 655.2L1484.5 672L1486.1 688.4L1486.1 703.7L1487.1 713.3L1487.1 727.5L1488.3 738L1488.3 751L1501 753.2L1509.3 751.8L1509.3 747L1513.7 743.7L1514.9 733.7L1514.9 725.8L1518.7 716.3L1519.6 710.3L1526 698.8L1526.8 698.9L1536.3 710.3L1538.7 716.4L1542.7 722.1L1545.8 731.5L1545.8 734.5L1550.3 745.7L1551.7 746.2L1559.3 724.4L1559.3 717.2L1561.6 708.9L1561.6 699.8L1563.3 692L1567.7 684L1567.7 655.1L1563.3 647.2L1559.3 638.2L1560.6 630.6L1565 623.2L1571 582.7L1576 539.8L1576.7 540.7L1580.5 561.3L1591.4 613.8L1600.3 651.7L1601 652.2L1601.7 652.1L1625.2 562L1626.4 562L1630.2 584.5L1631.5 588.5L1634.7 605.5L1641.1 650.3L1642.7 665.5L1642.7 673.6L1644.6 690.5L1644.6 696.7L1647.1 715.7L1647.1 719.5L1650.3 741.2L1651 741.8L1676 747.1M1259.3 666.1L1251.7 643.5L1252 642.8L1251 642.5L1249.6 643.3L1238.7 658.8L1227.4 665.2L1224 665.3L1224.9 666.3L1215.4 681.7L1217.7 688.5L1225.3 701.8L1226 702.3L1227.4 702.3L1249.6 691.6L1251 691.8L1251.7 691.3L1259.3 673.8L1259.3 666.1ZM1486 476.5L1486 477.4L1487.1 478.6L1487.3 495.3L1483.3 510.1L1483.4 516.6L1480.2 525.2L1478.4 537.2L1478.4 539.3L1476.2 551.7L1475.2 552.7L1469.9 573.5L1469.2 579.6L1465.7 595.5L1464.6 605.8L1462.2 617.8L1460.9 631.4L1459.3 640.2L1457.9 656.7L1457.9 663.7L1456.2 681.6L1456.2 686.9L1451.7 730.9L1449.6 731.3L1438.5 739.6L1426 748L1401 740.1L1388.5 730.8L1377.4 721.9L1351 712.8L1326 717.2L1323.5 716.9L1313.5 724.3L1301 731.3L1300.3 731L1292.7 697.2L1292.7 689.6L1295.8 674.2L1295.8 669.4L1300.4 650.6L1326 645.2L1327.4 645.3L1338.5 651.8L1348.5 658.6L1351 658.4L1376 651.3L1378 652L1386.7 663.3L1398.5 675.7L1401.8 676.8L1408.6 658.6L1409.7 651.7L1413.7 639.7L1415.4 628.4L1417.7 620.4L1419.6 605.7L1420.8 600.8L1425.6 561L1439.5 553.6L1438.7 540.7L1425.7 530.7L1421.8 508L1422.4 503L1419.8 482.3L1421.1 481.2L1420.9 480.6L1417.7 479.4L1417.7 476.5M1100.5 604.2L1126 599.5L1151 602.1L1151.7 602.6L1159.3 616.3L1163.3 625.2L1167.7 633L1175.3 651.5L1176.4 652.7L1182.9 690.1L1184.3 695.6L1181.2 711.7L1181.2 715.7L1176.7 736.2L1174.6 736.4L1163.5 743.1L1151 749.7L1150.3 749.6L1142.7 730.6L1126 718.1L1100.3 708L1095.8 686.7L1095.8 681.2L1092.7 663.4L1092.7 654.7L1100.5 604.2ZM1483.5 476.5L1483.5 477.2L1484.4 478.1L1484.5 493.7L1479.6 511.6L1479.7 514.8L1476 524.8L1474.6 525L1452.4 535.2L1451 535.4L1442.3 524.4L1438.3 513.4L1432.3 502.8L1426.5 481.5L1425.9 480.5L1421.8 479.1L1421.8 476.5M1124.6 665.2L1126.7 665.3L1127.4 664.6L1134.5 651.3L1148.5 641.1L1149.6 639.8L1151.5 640.1L1159.7 655L1161.3 663.4L1165.4 673L1161.3 682.3L1163.7 691.5L1152.4 704L1152 705L1125.2 704.7L1125 703.7L1111.6 683.4L1125 666.4L1124.6 665.2ZM1439.5 700.9L1426 702.3L1400 701.2L1386.6 701.5L1401.7 694.9L1426 686.5L1440.4 687.3L1439.5 700.9ZM1478.5 476.5L1478.8 490.4L1476 501.1L1459.5 491.8L1451.7 479.4L1450.3 478.8L1438.5 478.3L1438.5 476.5"/>
<text class="tk" x="76.5" y="54.5" text-anchor="end">0</text>
<text class="tk" x="76.5" y="98.4" text-anchor="end">-5</text>
<text class="tk" x="76.5" y="142.4" text-anchor="end">-10</text>
<text class="tk" x="76.5" y="186.3" text-anchor="end">-15</text>
<text class="tk" x="76.5" y="230.2" text-anchor="end">-20</text>
<text class="tk" x="76.5" y="274.1" text-anchor="end">-25</text>
<text class="tk" x="76.5" y="318.1" text-anchor="end">-30</text>
<text class="tk" x="76.5" y="362.0" text-anchor="end">-35</text>
<text class="tk" x="83.5" y="383.3" text-anchor="middle">1</text>
<text class="tk" x="133.5" y="383.3" text-anchor="middle">3</text>
<text class="tk" x="183.5" y="383.3" text-anchor="middle">5</text>
<text class="tk" x="233.5" y="383.3" text-anchor="middle">7</text>
<text class="tk" x="283.5" y="383.3" text-anchor="middle">9</text>
<text class="tk" x="333.5" y="383.3" text-anchor="middle">11</text>
<text class="tk" x="383.5" y="383.3" text-anchor="middle">13</text>
<text class="tk" x="433.5" y="383.3" text-anchor="middle">15</text>
<text class="tk" x="483.5" y="383.3" text-anchor="middle">17</text>
<text class="tk" x="533.5" y="383.3" text-anchor="middle">19</text>
<text class="tk" x="583.5" y="383.3" text-anchor="middle">21</text>
<text class="tk" x="633.5" y="383.3" text-anchor="middle">23</text>
<text class="tk" x="683.5" y="383.3" text-anchor="middle">25</text>
<text class="tk" x="733.5" y="383.3" text-anchor="middle">27</text>
<text class="tk" x="783.5" y="383.3" text-anchor="middle">29</text>
<text class="tk" x="833.5" y="383.3" text-anchor="middle">31</text>
<text class="ti" x="458.5" y="40.0" text-anchor="middle">Zonal Current</text>
<text class="ti" x="458.5" y="412.0" text-anchor="middle">May, 2006</text>
<text class="ti" transform="translate(35.0 199.2) rotate(-90)" text-anchor="middle">Depth(m)</text>
<text class="tk" x="919.0" y="54.5" text-anchor="end">0</text>
<text class="tk" x="919.0" y="98.4" text-anchor="end">-5</text>
<text class="tk" x="919.0" y="142.4" text-anchor="end">-10</text>
<text class="tk" x="919.0" y="186.3" text-anchor="end">-15</text>
<text class="tk" x="919.0" y="230.2" text-anchor="end">-20</text>
<text class="tk" x="919.0" y="274.1" text-anchor="end">-25</text>
<text class="tk" x="919.0" y="318.1" text-anchor="end">-30</text>
<text class="tk" x="919.0" y="362.0" text-anchor="end">-35</text>
<text class="tk" x="926.0" y="383.3" text-anchor="middle">1</text>
<text class="tk" x="976.0" y="383.3" text-anchor="middle">3</text>
<text class="tk" x="1026.0" y="383.3" text-anchor="middle">5</text>
<text class="tk" x="1076.0" y="383.3" text-anchor="middle">7</text>
<text class="tk" x="1126.0" y="383.3" text-anchor="middle">9</text>
<text class="tk" x="1176.0" y="383.3" text-anchor="middle">11</text>
<text class="tk" x="1226.0" y="383.3" text-anchor="middle">13</text>
<text class="tk" x="1276.0" y="383.3" text-anchor="middle">15</text>
<text class="tk" x="1326.0" y="383.3" text-anchor="middle">17</text>
<text class="tk" x="1376.0" y="383.3" text-anchor="middle">19</text>
<text class="tk" x="1426.0" y="383.3" text-anchor="middle">21</text>
<text class="tk" x="1476.0" y="383.3" text-anchor="middle">23</text>
<text class="tk" x="1526.0" y="383.3" text-anchor="middle">25</text>
<text class="tk" x="1576.0" y="383.3" text-anchor="middle">27</text>
<text class="tk" x="1626.0" y="383.3" text-anchor="middle">29</text>
<text class="tk" x="1676.0" y="383.3" text-anchor="middle">31</text>
<text class="ti" x="1301.0" y="40.0" text-anchor="middle">Meridional Current</text>
<text class="ti" x="1301.0" y="412.0" text-anchor="middle">May, 2006</text>
<text class="ti" transform="translate(877.5 199.2) rotate(-90)" text-anchor="middle">Depth(m)</text>
<text class="tk" x="76.5" y="485.5" text-anchor="end">0</text>
<text class="tk" x="76.5" y="529.4" text-anchor="end">-5</text>
<text class="tk" x="76.5" y="573.4" text-anchor="end">-10</text>
<text class="tk" x="76.5" y="617.3" text-anchor="end">-15</text>
<text class="tk" x="76.5" y="661.2" text-anchor="end">-20</text>
<text class="tk" x="76.5" y="705.1" text-anchor="end">-25</text>
<text class="tk" x="76.5" y="749.1" text-anchor="end">-30</text>
<text class="tk" x="76.5" y="793.0" text-anchor="end">-35</text>
<text class="tk" x="83.5" y="814.3" text-anchor="middle">1</text>
<text class="tk" x="133.5" y="814.3" text-anchor="middle">3</text>
<text class="tk" x="183.5" y="814.3" text-anchor="middle">5</text>
<text class="tk" x="233.5" y="814.3" text-anchor="middle">7</text>
<text class="tk" x="283.5" y="814.3" text-anchor="middle">9</text>
<text class="tk" x="333.5" y="814.3" text-anchor="middle">11</text>
<text class="tk" x="383.5" y="814.3" text-anchor="middle">13</text>
<text class="tk" x="433.5" y="814.3" text-anchor="middle">15</text>
<text class="tk" x="483.5" y="814.3" text-anchor="middle">17</text>
<text class="tk" x="533.5" y="814.3" text-anchor="middle">19</text>
<text class="tk" x="583.5" y="814.3" text-anchor="middle">21</text>
<text class="tk" x="633.5" y="814.3" text-anchor="middle">23</text>
<text class="tk" x="683.5" y="814.3" text-anchor="middle">25</text>
<text class="tk" x="733.5" y="814.3" text-anchor="middle">27</text>
<text class="tk" x="783.5" y="814.3" text-anchor="middle">29</text>
<text class="tk" x="833.5" y="814.3" text-anchor="middle">31</text>
<text class="ti" x="458.5" y="471.0" text-anchor="middle">Zonal Current</text>
<text class="ti" x="458.5" y="843.0" text-anchor="middle">March, 2009</text>
<text class="ti" transform="translate(35.0 630.2) rotate(-90)" text-anchor="middle">Depth(m)</text>
<text class="tk" x="919.0" y="485.5" text-anchor="end">0</text>
<text class="tk" x="919.0" y="529.4" text-anchor="end">-5</text>
<text class="tk" x="919.0" y="573.4" text-anchor="end">-10</text>
<text class="tk" x="919.0" y="617.3" text-anchor="end">-15</text>
<text class="tk" x="919.0" y="661.2" text-anchor="end">-20</text>
<text class="tk" x="919.0" y="705.1" text-anchor="end">-25</text>
<text class="tk" x="919.0" y="749.1" text-anchor="end">-30</text>
<text class="tk" x="919.0" y="793.0" text-anchor="end">-35</text>
<text class="tk" x="926.0" y="814.3" text-anchor="middle">1</text>
<text class="tk" x="976.0" y="814.3" text-anchor="middle">3</text>
<text class="tk" x="1026.0" y="814.3" text-anchor="middle">5</text>
<text class="tk" x="1076.0" y="814.3" text-anchor="middle">7</text>
<text class="tk" x="1126.0" y="814.3" text-anchor="middle">9</text>
<text class="tk" x="1176.0" y="814.3" text-anchor="middle">11</text>
<text class="tk" x="1226.0" y="814.3" text-anchor="middle">13</text>
<text class="tk" x="1276.0" y="814.3" text-anchor="middle">15</text>
<text class="tk" x="1326.0" y="814.3" text-anchor="middle">17</text>
<text class="tk" x="1376.0" y="814.3" text-anchor="middle">19</text>
<text class="tk" x="1426.0" y="814.3" text-anchor="middle">21</text>
<text class="tk" x="1476.0" y="814.3" text-anchor="middle">23</text>
<text class="tk" x="1526.0" y="814.3" text-anchor="middle">25</text>
<text class="tk" x="1576.0" y="814.3" text-anchor="middle">27</text>
<text class="tk" x="1626.0" y="814.3" text-anchor="middle">29</text>
<text class="tk" x="1676.0" y="814.3" text-anchor="middle">31</text>
<text class="ti" x="1301.0" y="471.0" text-anchor="middle">Meridional Current</text>
<text class="ti" x="1301.0" y="843.0" text-anchor="middle">March, 2009</text>
<text class="ti" transform="translate(877.5 630.2) rotate(-90)" text-anchor="middle">Depth(m)</text>
<rect x="1700.0" y="767.56" width="32.0" height="11.84" fill="#2166ac"/>
<rect x="1700.0" y="756.12" width="32.0" height="11.84" fill="#256caf"/>
<rect x="1700.0" y="744.69" width="32.0" height="11.84" fill="#2a71b2"/>
<rect x="1700.0" y="733.25" width="32.0" height="11.84" fill="#2e77b5"/>
<rect x="1700.0" y="721.81" width="32.0" height="11.84" fill="#327db8"/>
<rect x="1700.0" y="710.38" width="32.0" height="11.84" fill="#3783bb"/>
<rect x="1700.0" y="698.94" width="32.0" height="11.84" fill="#3b88be"/>
<rect x="1700.0" y="687.50" width="32.0" height="11.84" fill="#3f8ec0"/>
<rect x="1700.0" y="676.06" width="32.0" height="11.84" fill="#4494c3"/>
<rect x="1700.0" y="664.62" width="32.0" height="11.84" fill="#4e9ac7"/>
<rect x="1700.0" y="653.19" width="32.0" height="11.84" fill="#58a0ca"/>
<rect x="1700.0" y="641.75" width="32.0" height="11.84" fill="#62a7ce"/>
<rect x="1700.0" y="630.31" width="32.0" height="11.84" fill="#6cadd1"/>
<rect x="1700.0" y="618.88" width="32.0" height="11.84" fill="#76b4d5"/>
<rect x="1700.0" y="607.44" width="32.0" height="11.84" fill="#80bad8"/>
<rect x="1700.0" y="596.00" width="32.0" height="11.84" fill="#8ac0db"/>
<rect x="1700.0" y="584.56" width="32.0" height="11.84" fill="#94c6df"/>
<rect x="1700.0" y="573.12" width="32.0" height="11.84" fill="#9ccae1"/>
<rect x="1700.0" y="561.69" width="32.0" height="11.84" fill="#a4cee3"/>
<rect x="1700.0" y="550.25" width="32.0" height="11.84" fill="#acd2e5"/>
<rect x="1700.0" y="538.81" width="32.0" height="11.84" fill="#b4d6e8"/>
<rect x="1700.0" y="527.38" width="32.0" height="11.84" fill="#bcdaea"/>
<rect x="1700.0" y="515.94" width="32.0" height="11.84" fill="#c4deec"/>
<rect x="1700.0" y="504.50" width="32.0" height="11.84" fill="#cce2ef"/>
<rect x="1700.0" y="493.06" width="32.0" height="11.84" fill="#d3e6f0"/>
<rect x="1700.0" y="481.62" width="32.0" height="11.84" fill="#d8e8f1"/>
<rect x="1700.0" y="470.19" width="32.0" height="11.84" fill="#dceaf2"/>
<rect x="1700.0" y="458.75" width="32.0" height="11.84" fill="#e1edf3"/>
<rect x="1700.0" y="447.31" width="32.0" height="11.84" fill="#e6eff4"/>
<rect x="1700.0" y="435.88" width="32.0" height="11.84" fill="#ebf1f5"/>
<rect x="1700.0" y="424.44" width="32.0" height="11.84" fill="#f0f4f6"/>
<rect x="1700.0" y="413.00" width="32.0" height="11.84" fill="#f5f6f7"/>
<rect x="1700.0" y="401.56" width="32.0" height="11.84" fill="#f7f5f4"/>
<rect x="1700.0" y="390.12" width="32.0" height="11.84" fill="#f8f2ee"/>
<rect x="1700.0" y="378.69" width="32.0" height="11.84" fill="#f9eee8"/>
<rect x="1700.0" y="367.25" width="32.0" height="11.84" fill="#faebe2"/>
<rect x="1700.0" y="355.81" width="32.0" height="11.84" fill="#fae7dc"/>
<rect x="1700.0" y="344.38" width="32.0" height="11.84" fill="#fbe3d5"/>
<rect x="1700.0" y="332.94" width="32.0" height="11.84" fill="#fce0cf"/>
<rect x="1700.0" y="321.50" width="32.0" height="11.84" fill="#fddcc9"/>
<rect x="1700.0" y="310.06" width="32.0" height="11.84" fill="#fcd7c2"/>
<rect x="1700.0" y="298.62" width="32.0" height="11.84" fill="#fbd0b9"/>
<rect x="1700.0" y="287.19" width="32.0" height="11.84" fill="#fac9b0"/>
<rect x="1700.0" y="275.75" width="32.0" height="11.84" fill="#f9c2a7"/>
<rect x="1700.0" y="264.31" width="32.0" height="11.84" fill="#f8bb9e"/>
<rect x="1700.0" y="252.88" width="32.0" height="11.84" fill="#f7b496"/>
<rect x="1700.0" y="241.44" width="32.0" height="11.84" fill="#f5ae8d"/>
<rect x="1700.0" y="230.00" width="32.0" height="11.84" fill="#f4a784"/>
<rect x="1700.0" y="218.56" width="32.0" height="11.84" fill="#f19e7d"/>
<rect x="1700.0" y="207.12" width="32.0" height="11.84" fill="#ed9676"/>
<rect x="1700.0" y="195.69" width="32.0" height="11.84" fill="#ea8d6f"/>
<rect x="1700.0" y="184.25" width="32.0" height="11.84" fill="#e68469"/>
<rect x="1700.0" y="172.81" width="32.0" height="11.84" fill="#e27b62"/>
<rect x="1700.0" y="161.38" width="32.0" height="11.84" fill="#de735b"/>
<rect x="1700.0" y="149.94" width="32.0" height="11.84" fill="#da6a55"/>
<rect x="1700.0" y="138.50" width="32.0" height="11.84" fill="#d6614e"/>
<rect x="1700.0" y="127.06" width="32.0" height="11.84" fill="#d25849"/>
<rect x="1700.0" y="115.62" width="32.0" height="11.84" fill="#cd4f45"/>
<rect x="1700.0" y="104.19" width="32.0" height="11.84" fill="#c94641"/>
<rect x="1700.0" y="92.75" width="32.0" height="11.84" fill="#c43d3c"/>
<rect x="1700.0" y="81.31" width="32.0" height="11.84" fill="#c03338"/>
<rect x="1700.0" y="69.88" width="32.0" height="11.84" fill="#bb2a34"/>
<rect x="1700.0" y="58.44" width="32.0" height="11.84" fill="#b7212f"/>
<rect x="1700.0" y="47.00" width="32.0" height="11.84" fill="#b2182b"/>
<rect x="1700.0" y="47.0" width="32.0" height="732.0" fill="none" stroke="#262626" stroke-width="1.5"/>
<text class="cb" x="1741" y="55.2">0.4</text>
<text class="cb" x="1741" y="146.7">0.3</text>
<text class="cb" x="1741" y="238.2">0.2</text>
<text class="cb" x="1741" y="329.7">0.1</text>
<text class="cb" x="1741" y="421.2">0</text>
<text class="cb" x="1741" y="512.7">-0.1</text>
<text class="cb" x="1741" y="604.2">-0.2</text>
<text class="cb" x="1741" y="695.7">-0.3</text>
<text class="cb" x="1741" y="787.2">-0.4</text>
<path stroke="#262626" stroke-width="1.5" d="M1732.0 138.5h-8M1732.0 230.0h-8M1732.0 321.5h-8M1732.0 413.0h-8M1732.0 504.5h-8M1732.0 596.0h-8M1732.0 687.5h-8"/>
<text class="pl" x="-0.5" y="23.9">A</text>
<text class="pl" x="850.3" y="23.9">B</text>
<text class="pl" x="-0.5" y="451.4">C</text>
<text class="pl" x="850.3" y="451.4">D</text>
<text class="cl" x="123.0" y="72.1" transform="rotate(5 123.0 66.0)">0.1</text>
<text class="cl" x="163.0" y="77.1" transform="rotate(40 163.0 71.0)">0.4</text>
<text class="cl" x="155.0" y="84.1" transform="rotate(62 155.0 78.0)">0.3</text>
<text class="cl" x="147.0" y="91.1" transform="rotate(65 147.0 85.0)">0.2</text>
<text class="cl" x="102.0" y="116.1" transform="rotate(90 102.0 110.0)">0.05</text>
<text class="cl" x="143.0" y="130.6" transform="rotate(90 143.0 124.5)">0.05</text>
<text class="cl" x="374.5" y="89.1" transform="rotate(-65 374.5 83.0)">-0.1</text>
<text class="cl" x="430.5" y="83.1" transform="rotate(-55 430.5 77.0)">-0.2</text>
<text class="cl" x="446.0" y="85.1" transform="rotate(-60 446.0 79.0)">-0.3</text>
<text class="cl" x="452.0" y="102.1" transform="rotate(-65 452.0 96.0)">-0.05</text>
<text class="cl" x="469.0" y="101.1" transform="rotate(-60 469.0 95.0)">0.05</text>
<text class="cl" x="513.0" y="78.1" transform="rotate(-75 513.0 72.0)">0.1</text>
<text class="cl" x="549.0" y="95.1" transform="rotate(55 549.0 89.0)">0.2</text>
<text class="cl" x="613.0" y="81.1" transform="rotate(-75 613.0 75.0)">0.1</text>
<text class="cl" x="738.0" y="166.1" transform="rotate(70 738.0 160.0)">0.1</text>
<text class="cl" x="766.0" y="81.1" transform="rotate(-75 766.0 75.0)">0.1</text>
<text class="cl" x="782.0" y="79.1" transform="rotate(-90 782.0 73.0)">0.2</text>
<text class="cl" x="628.0" y="183.1" transform="rotate(45 628.0 177.0)">0.1</text>
<text class="cl" x="327.5" y="210.6" transform="rotate(-25 327.5 204.5)">0.05</text>
<text class="cl" x="336.0" y="187.1" transform="rotate(60 336.0 181.0)">0.1</text>
<text class="cl" x="356.0" y="220.1" transform="rotate(75 356.0 214.0)">0.2</text>
<text class="cl" x="436.0" y="186.1" transform="rotate(-75 436.0 180.0)">-0.05</text>
<text class="cl" x="570.5" y="260.1" transform="rotate(65 570.5 254.0)">0.05</text>
<text class="cl" x="981.0" y="59.1" transform="rotate(15 981.0 53.0)">0.1</text>
<text class="cl" x="972.0" y="69.1" transform="rotate(55 972.0 63.0)">0.05</text>
<text class="cl" x="941.0" y="90.1" transform="rotate(90 941.0 84.0)">-0.05</text>
<text class="cl" x="1044.0" y="62.1" transform="rotate(15 1044.0 56.0)">0.2</text>
<text class="cl" x="1031.0" y="120.1" transform="rotate(-35 1031.0 114.0)">0.05</text>
<text class="cl" x="1138.0" y="207.1" transform="rotate(-45 1138.0 201.0)">0.1</text>
<text class="cl" x="949.6" y="269.1" transform="rotate(-50 949.6 263.0)">0.1</text>
<text class="cl" x="979.0" y="296.1" transform="rotate(10 979.0 290.0)">0.05</text>
<text class="cl" x="1046.0" y="277.1" transform="rotate(-45 1046.0 271.0)">0.1</text>
<text class="cl" x="1252.0" y="79.1" transform="rotate(-45 1252.0 73.0)">-0.1</text>
<text class="cl" x="1262.0" y="90.1" transform="rotate(-45 1262.0 84.0)">-0.05</text>
<text class="cl" x="1282.0" y="87.1" transform="rotate(-45 1282.0 81.0)">0.05</text>
<text class="cl" x="1325.0" y="89.1" transform="rotate(-50 1325.0 83.0)">0.1</text>
<text class="cl" x="1360.0" y="70.1" transform="rotate(35 1360.0 64.0)">0.2</text>
<text class="cl" x="1238.0" y="177.1" transform="rotate(-80 1238.0 171.0)">0.1</text>
<text class="cl" x="1462.0" y="186.1" transform="rotate(-80 1462.0 180.0)">0.05</text>
<text class="cl" x="1327.0" y="231.1" transform="rotate(-90 1327.0 225.0)">0.05</text>
<text class="cl" x="1240.0" y="261.1" transform="rotate(60 1240.0 255.0)">-0.05</text>
<text class="cl" x="1493.0" y="89.1" transform="rotate(75 1493.0 83.0)">0.1</text>
<text class="cl" x="1595.0" y="81.1" transform="rotate(70 1595.0 75.0)">0.2</text>
<text class="cl" x="1602.0" y="223.1" transform="rotate(-90 1602.0 217.0)">0.05</text>
<text class="cl" x="1617.0" y="211.1" transform="rotate(-90 1617.0 205.0)">0.1</text>
<text class="cl" x="1651.0" y="254.1" transform="rotate(70 1651.0 248.0)">0.05</text>
<text class="cl" x="1550.0" y="287.1" transform="rotate(10 1550.0 281.0)">0.1</text>
<text class="cl" x="209.0" y="507.6" transform="rotate(-35 209.0 501.5)">-0.2</text>
<text class="cl" x="244.0" y="532.1" transform="rotate(-70 244.0 526.0)">-0.1</text>
<text class="cl" x="269.0" y="524.1" transform="rotate(45 269.0 518.0)">-0.05</text>
<text class="cl" x="261.0" y="591.1" transform="rotate(30 261.0 585.0)">0.05</text>
<text class="cl" x="286.0" y="601.1" transform="rotate(90 286.0 595.0)">0.05</text>
<text class="cl" x="190.5" y="650.6" transform="rotate(-80 190.5 644.5)">-0.05</text>
<text class="cl" x="205.0" y="682.1" transform="rotate(90 205.0 676.0)">-0.05</text>
<text class="cl" x="296.5" y="635.1" transform="rotate(75 296.5 629.0)">0.1</text>
<text class="cl" x="368.0" y="712.1" transform="rotate(-80 368.0 706.0)">0.05</text>
<text class="cl" x="393.5" y="500.6" transform="rotate(-10 393.5 494.5)">-0.3</text>
<text class="cl" x="414.0" y="520.1" transform="rotate(-55 414.0 514.0)">-0.2</text>
<text class="cl" x="449.0" y="498.1" transform="rotate(-35 449.0 492.0)">-0.1</text>
<text class="cl" x="519.0" y="527.1" transform="rotate(-65 519.0 521.0)">-0.05</text>
<text class="cl" x="640.0" y="559.1" transform="rotate(90 640.0 553.0)">-0.2</text>
<text class="cl" x="640.0" y="586.1" transform="rotate(90 640.0 580.0)">-0.1</text>
<text class="cl" x="459.0" y="709.1" transform="rotate(8 459.0 703.0)">0.05</text>
<text class="cl" x="518.5" y="637.1" transform="rotate(-80 518.5 631.0)">0.05</text>
<text class="cl" x="567.5" y="643.1" transform="rotate(-75 567.5 637.0)">0.1</text>
<text class="cl" x="644.0" y="658.1" transform="rotate(80 644.0 652.0)">-0.05</text>
<text class="cl" x="692.5" y="498.1" transform="rotate(-10 692.5 492.0)">-0.4</text>
<text class="cl" x="703.0" y="517.1" transform="rotate(-40 703.0 511.0)">-0.3</text>
<text class="cl" x="765.7" y="512.1" transform="rotate(-60 765.7 506.0)">-0.3</text>
<text class="cl" x="816.0" y="575.1" transform="rotate(-40 816.0 569.0)">-0.2</text>
<text class="cl" x="735.0" y="652.1" transform="rotate(-80 735.0 646.0)">0.05</text>
<text class="cl" x="804.0" y="660.1" transform="rotate(55 804.0 654.0)">-0.1</text>
<text class="cl" x="799.0" y="704.1" transform="rotate(75 799.0 698.0)">-0.05</text>
<text class="cl" x="968.0" y="519.1" transform="rotate(60 968.0 513.0)">-0.2</text>
<text class="cl" x="982.0" y="524.1" transform="rotate(70 982.0 518.0)">-0.1</text>
<text class="cl" x="993.0" y="531.1" transform="rotate(90 993.0 525.0)">-0.05</text>
<text class="cl" x="1054.0" y="510.1" transform="rotate(-45 1054.0 504.0)">-0.2</text>
<text class="cl" x="1083.0" y="534.1" transform="rotate(-70 1083.0 528.0)">-0.05</text>
<text class="cl" x="1090.0" y="518.1" transform="rotate(-70 1090.0 512.0)">-0.1</text>
<text class="cl" x="1177.0" y="561.1" transform="rotate(55 1177.0 555.0)">-0.05</text>
<text class="cl" x="952.6" y="659.1" transform="rotate(30 952.6 653.0)">-0.1</text>
<text class="cl" x="1098.0" y="672.1" transform="rotate(90 1098.0 666.0)">0.05</text>
<text class="cl" x="1121.5" y="689.6" transform="rotate(-75 1121.5 683.5)">0.1</text>
<text class="cl" x="1229.0" y="511.6" transform="rotate(-60 1229.0 505.5)">-0.3</text>
<text class="cl" x="1242.0" y="515.1" transform="rotate(-60 1242.0 509.0)">-0.1</text>
<text class="cl" x="1240.0" y="526.1" transform="rotate(-70 1240.0 520.0)">-0.05</text>
<text class="cl" x="1345.0" y="501.6" transform="rotate(35 1345.0 495.5)">-0.2</text>
<text class="cl" x="1392.0" y="503.1" transform="rotate(55 1392.0 497.0)">-0.1</text>
<text class="cl" x="1404.0" y="516.1" transform="rotate(55 1404.0 510.0)">-0.05</text>
<text class="cl" x="1428.0" y="491.6" transform="rotate(15 1428.0 485.5)">0.1</text>
<text class="cl" x="1428.0" y="510.1" transform="rotate(80 1428.0 504.0)">0.05</text>
<text class="cl" x="1238.5" y="698.1" transform="rotate(-30 1238.5 692.0)">-0.05</text>
<text class="cl" x="1386.6" y="738.1" transform="rotate(25 1386.6 732.0)">0.05</text>
<text class="cl" x="1418.0" y="704.6" transform="rotate(-30 1418.0 698.5)">0.1</text>
<text class="cl" x="1580.0" y="510.1" transform="rotate(-40 1580.0 504.0)">-0.2</text>
<text class="cl" x="1662.5" y="579.1" transform="rotate(-60 1662.5 573.0)">-0.1</text>
<text class="cl" x="1511.0" y="730.6" transform="rotate(-65 1511.0 724.5)">-0.1</text>
<text class="cl" x="1548.0" y="691.1" transform="rotate(-60 1548.0 685.0)">-0.1</text>
<text class="cl" x="1563.0" y="678.1" transform="rotate(-90 1563.0 672.0)">-0.05</text>
<text class="cl" x="1643.0" y="713.1" transform="rotate(80 1643.0 707.0)">-0.05</text>
</svg>
</body></html>
